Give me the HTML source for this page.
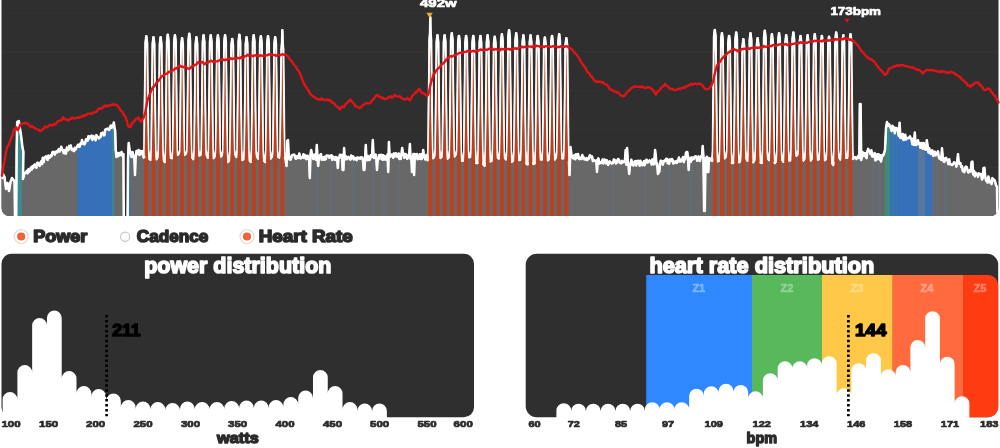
<!DOCTYPE html>
<html lang="en">
<head>
<meta charset="utf-8">
<title>Ride analysis</title>
<style>
html,body{margin:0;padding:0;background:#fff;}
body{width:1000px;height:448px;overflow:hidden;font-family:"Liberation Sans",sans-serif;}
svg{display:block;}
text{font-family:"Liberation Sans",sans-serif;font-weight:700;stroke-linejoin:round;}
.lab{font-size:11.5px;fill:#fff;stroke:#fff;stroke-width:.7px;}
.leg{font-size:16.2px;fill:#2b2b2b;stroke:#2b2b2b;stroke-width:1.5px;}
.ttl{font-size:21.4px;fill:#fff;stroke:#fff;stroke-width:1.6px;}
.mk{font-size:16px;fill:#000;stroke:#000;stroke-width:1.4px;}
.ax{font-size:9.5px;fill:#2b2b2b;stroke:#2b2b2b;stroke-width:.7px;}
.unit{font-size:15.2px;fill:#2b2b2b;stroke:#2b2b2b;stroke-width:1.4px;}
.zn{font-size:11px;fill:#fff;fill-opacity:.3;stroke:#fff;stroke-opacity:.3;stroke-width:.5px;}
</style>
</head>
<body>
<svg width="1000" height="448" viewBox="0 0 1000 448">
<defs>
<clipPath id="cc"><path d="M1.5,0 H998.5 V208.0 a8,8 0 0 1 -8,8 H9.5 a8,8 0 0 1 -8,-8 Z"/></clipPath>
</defs>
<rect x="0" y="0" width="1000" height="448" fill="#fff"/>
<g id="ride-chart">
<path d="M1.5,0 H998.5 V208.0 a8,8 0 0 1 -8,8 H9.5 a8,8 0 0 1 -8,-8 Z" fill="#2f2f2f"/>
<rect x="2" y="12.5" width="996" height="1" fill="#343434"/>
<rect x="2" y="51.0" width="996" height="1" fill="#343434"/>
<rect x="2" y="89.7" width="996" height="1" fill="#343434"/>
<rect x="2" y="128.4" width="996" height="1" fill="#343434"/>
<rect x="2" y="167.0" width="996" height="1" fill="#343434"/>
<g clip-path="url(#cc)">
<path d="M2.00,217.00 L2.00,178.00 L3.00,174.00 L4.50,177.00 L6.00,189.00 L7.50,183.00 L9.00,191.00 L10.50,182.00 L12.00,178.00 L13.50,180.00 L14.60,182.00 L15.00,218.00 L16.20,218.00 L16.60,150.00 L17.20,122.00 L18.80,121.00 L19.70,127.00 L21.00,135.00 L22.30,146.00 L23.40,152.00 L23.20,165.00 L23.00,179.00 L24.00,175.00 L25.00,173.00 L26.00,172.31 L26.80,170.76 L27.60,173.38 L28.40,169.31 L29.20,171.70 L30.00,170.17 L30.80,167.61 L31.60,169.74 L32.40,166.18 L33.20,167.98 L34.00,165.07 L34.80,164.55 L35.60,165.97 L36.40,167.81 L37.20,162.80 L38.00,162.77 L38.80,164.62 L39.60,165.95 L40.40,163.00 L41.20,161.23 L42.00,164.18 L42.80,157.76 L43.60,162.17 L44.40,158.25 L45.20,156.94 L46.00,156.38 L46.80,157.16 L47.60,159.91 L48.40,155.57 L49.20,157.66 L50.00,157.53 L50.80,155.34 L51.60,155.90 L52.40,152.36 L53.20,151.80 L54.00,152.18 L54.80,154.59 L55.60,152.48 L56.40,151.25 L57.20,152.35 L58.00,150.82 L58.80,149.16 L59.60,151.51 L60.40,150.21 L61.20,146.68 L62.00,149.13 L62.80,149.89 L63.60,153.13 L64.40,153.29 L65.20,150.06 L66.00,153.64 L66.80,147.59 L67.60,148.74 L68.40,150.13 L69.20,145.88 L70.00,148.10 L70.80,145.44 L71.60,149.48 L72.40,150.21 L73.20,149.15 L74.00,151.16 L74.80,147.81 L75.60,149.41 L76.40,147.72 L77.20,146.56 L78.00,144.73 L78.80,146.64 L79.60,146.82 L80.40,143.44 L81.20,144.15 L82.00,139.94 L82.80,143.45 L83.60,142.65 L84.40,144.36 L85.20,142.90 L86.00,139.16 L86.80,139.39 L87.60,140.75 L88.40,136.34 L89.20,138.66 L90.00,136.44 L90.80,136.06 L91.60,135.63 L92.40,139.96 L93.20,135.94 L94.00,136.60 L94.80,137.42 L95.60,140.34 L96.40,135.13 L97.20,136.88 L98.00,136.97 L98.80,138.51 L99.60,137.58 L100.40,137.32 L101.20,133.16 L102.00,133.47 L102.80,132.59 L103.60,135.32 L104.40,135.24 L105.20,129.70 L106.00,129.33 L106.80,129.14 L107.60,128.61 L108.40,129.71 L109.20,129.95 L110.00,127.53 L110.80,125.53 L111.60,127.70 L113.00,127.00 L113.80,122.50 L114.60,128.00 L115.20,131.00 L115.70,150.00 L116.50,157.00 L117.50,153.00 L118.50,156.00 L119.50,153.00 L120.50,155.00 L121.50,152.00 L122.50,156.00 L123.40,154.00 L123.80,218.00 L127.60,218.00 L128.00,160.00 L128.70,143.00 L129.60,150.00 L130.50,153.00 L131.50,157.00 L132.50,152.00 L133.50,156.00 L134.50,160.00 L135.00,175.00 L135.60,158.00 L136.50,151.00 L137.50,154.00 L138.50,150.00 L139.50,155.00 L140.50,151.00 L141.50,154.00 L142.50,151.00 L143.50,156.00 L144.30,157.00 L143.70,157.35 L144.30,150.00 L144.60,112.00 L145.25,62.00 L145.35,43.00 L146.10,36.00 L146.50,36.00 L147.25,43.00 L147.35,62.00 L148.00,112.00 L148.30,150.00 L149.47,159.03 L150.70,159.98 L151.46,150.00 L151.76,112.00 L152.41,62.00 L152.51,44.00 L153.26,37.00 L153.66,37.00 L154.41,44.00 L154.51,62.00 L155.16,112.00 L155.46,150.00 L156.47,159.44 L157.77,157.21 L158.62,150.00 L158.92,112.00 L159.57,62.00 L159.67,44.00 L160.42,37.00 L160.82,37.00 L161.57,44.00 L161.67,62.00 L162.32,112.00 L162.62,150.00 L163.74,160.74 L164.99,162.23 L165.78,150.00 L166.08,112.00 L166.73,62.00 L166.83,41.50 L167.58,34.50 L167.98,34.50 L168.73,41.50 L168.83,62.00 L169.48,112.00 L169.78,150.00 L170.44,157.69 L171.92,158.36 L172.94,150.00 L173.24,112.00 L173.89,62.00 L173.99,42.00 L174.74,35.00 L175.14,35.00 L175.89,42.00 L175.99,62.00 L176.64,112.00 L176.94,150.00 L177.67,155.04 L179.11,153.35 L180.10,150.00 L180.40,112.00 L181.05,62.00 L181.15,45.00 L181.90,38.00 L182.30,38.00 L183.05,45.00 L183.15,62.00 L183.80,112.00 L184.10,150.00 L184.70,154.92 L186.21,153.18 L187.26,150.00 L187.56,112.00 L188.21,62.00 L188.31,40.60 L189.06,33.60 L189.46,33.60 L190.21,40.60 L190.31,62.00 L190.96,112.00 L191.26,150.00 L191.88,157.41 L193.38,159.28 L194.42,150.00 L194.72,112.00 L195.37,62.00 L195.47,44.00 L196.22,37.00 L196.62,37.00 L197.37,44.00 L197.47,62.00 L198.12,112.00 L198.42,150.00 L199.17,155.69 L200.61,154.93 L201.58,150.00 L201.88,112.00 L202.53,62.00 L202.63,42.00 L203.38,35.00 L203.78,35.00 L204.53,42.00 L204.63,62.00 L205.28,112.00 L205.58,150.00 L206.69,155.48 L207.94,157.95 L208.74,150.00 L209.04,112.00 L209.69,62.00 L209.79,42.00 L210.54,35.00 L210.94,35.00 L211.69,42.00 L211.79,62.00 L212.44,112.00 L212.74,150.00 L213.39,158.37 L214.88,156.38 L215.90,150.00 L216.20,112.00 L216.85,62.00 L216.95,42.00 L217.70,35.00 L218.10,35.00 L218.85,42.00 L218.95,62.00 L219.60,112.00 L219.90,150.00 L221.00,156.62 L222.26,154.93 L223.06,150.00 L223.36,112.00 L224.01,62.00 L224.11,42.00 L224.86,35.00 L225.26,35.00 L226.01,42.00 L226.11,62.00 L226.76,112.00 L227.06,150.00 L227.98,162.11 L229.33,160.34 L230.22,150.00 L230.52,112.00 L231.17,62.00 L231.27,45.70 L232.02,38.70 L232.42,38.70 L233.17,45.70 L233.27,62.00 L233.92,112.00 L234.22,150.00 L235.14,154.72 L236.49,157.11 L237.38,150.00 L237.68,112.00 L238.33,62.00 L238.43,41.50 L239.18,34.50 L239.58,34.50 L240.33,41.50 L240.43,62.00 L241.08,112.00 L241.38,150.00 L242.14,160.07 L243.57,159.40 L244.54,150.00 L244.84,112.00 L245.49,62.00 L245.59,44.00 L246.34,37.00 L246.74,37.00 L247.49,44.00 L247.59,62.00 L248.24,112.00 L248.54,150.00 L249.46,160.68 L250.81,162.07 L251.70,150.00 L252.00,112.00 L252.65,62.00 L252.75,42.00 L253.50,35.00 L253.90,35.00 L254.65,42.00 L254.75,62.00 L255.40,112.00 L255.70,150.00 L256.79,156.28 L258.05,158.71 L258.86,150.00 L259.16,112.00 L259.81,62.00 L259.91,43.00 L260.66,36.00 L261.06,36.00 L261.81,43.00 L261.91,62.00 L262.56,112.00 L262.86,150.00 L263.95,160.95 L265.22,162.15 L266.02,150.00 L266.32,112.00 L266.97,62.00 L267.07,43.00 L267.82,36.00 L268.22,36.00 L268.97,43.00 L269.07,62.00 L269.72,112.00 L270.02,150.00 L270.83,158.64 L272.24,156.29 L273.18,150.00 L273.48,112.00 L274.13,62.00 L274.23,44.00 L274.98,37.00 L275.38,37.00 L276.13,44.00 L276.23,62.00 L276.88,112.00 L277.18,150.00 L277.94,156.74 L279.37,157.70 L280.34,150.00 L280.64,112.00 L281.29,62.00 L281.39,49.00 L281.89,42.00 L282.22,30.00 L282.46,30.00 L282.79,42.00 L283.29,49.00 L283.39,62.00 L284.04,112.00 L284.34,150.00 L284.94,158.08 L285.40,158.00 L286.50,166.00 L287.20,141.00 L288.00,140.00 L288.80,158.00 L289.50,159.43 L290.20,159.68 L290.90,159.43 L291.60,155.83 L292.30,154.92 L293.00,154.90 L293.70,154.66 L294.40,154.66 L295.10,157.12 L295.80,158.72 L296.50,158.31 L297.20,156.09 L297.90,157.08 L298.60,157.91 L299.30,153.56 L300.00,156.96 L300.70,158.49 L301.40,157.76 L302.10,157.61 L302.80,156.01 L303.50,154.25 L304.20,157.94 L304.90,155.24 L305.60,158.08 L306.30,159.14 L307.00,155.73 L307.70,155.79 L308.40,159.10 L309.10,157.80 L309.80,178.00 L310.50,154.55 L311.20,150.00 L311.90,154.36 L312.60,154.54 L313.30,159.09 L314.00,158.54 L314.70,154.61 L315.40,158.73 L316.10,159.69 L316.80,145.00 L317.50,157.82 L318.20,166.00 L318.90,156.05 L319.60,157.27 L320.30,154.80 L321.00,154.12 L321.70,159.88 L322.40,157.98 L323.10,157.26 L323.80,159.73 L324.50,156.75 L325.20,159.40 L325.90,159.15 L326.60,155.49 L327.30,155.75 L328.00,156.02 L328.70,155.73 L329.40,157.83 L330.10,155.89 L330.80,156.87 L331.50,155.17 L332.20,159.87 L332.90,156.55 L333.60,157.20 L334.30,157.98 L335.00,159.93 L335.70,157.05 L336.40,160.05 L337.10,157.58 L337.80,168.00 L338.50,157.81 L339.20,157.78 L339.90,154.78 L340.60,157.33 L341.30,155.81 L342.00,154.76 L342.70,170.00 L343.40,170.00 L344.10,148.00 L344.80,159.62 L345.50,155.88 L346.20,157.71 L346.90,159.25 L347.60,158.26 L348.30,156.90 L349.00,158.08 L349.70,158.32 L350.40,159.69 L351.10,155.60 L351.80,158.30 L352.50,156.41 L353.20,156.55 L353.90,159.50 L354.60,157.89 L355.30,158.19 L356.00,159.36 L356.70,160.25 L357.40,157.41 L358.10,158.41 L358.80,157.74 L359.50,157.76 L360.20,158.82 L360.90,157.35 L361.60,157.81 L362.30,157.46 L363.00,160.22 L363.70,170.00 L364.40,170.00 L365.10,158.69 L365.80,145.00 L366.50,159.71 L367.20,160.08 L367.90,155.96 L368.60,157.74 L369.30,160.02 L370.00,159.37 L370.70,155.13 L371.40,155.02 L372.10,156.92 L372.80,140.00 L373.50,154.65 L374.20,158.00 L374.90,155.61 L375.60,154.59 L376.30,158.14 L377.00,170.00 L377.70,158.78 L378.40,159.44 L379.10,154.96 L379.80,158.30 L380.50,157.94 L381.20,154.80 L381.90,159.20 L382.60,159.68 L383.30,155.15 L384.00,159.52 L384.70,156.15 L385.40,156.65 L386.10,159.63 L386.80,158.65 L387.50,154.59 L388.20,172.00 L388.90,142.00 L389.60,156.11 L390.30,156.58 L391.00,155.48 L391.70,154.59 L392.40,155.29 L393.10,157.68 L393.80,153.43 L394.50,156.60 L395.20,155.88 L395.90,153.31 L396.60,155.16 L397.30,156.88 L398.00,156.17 L398.70,153.45 L399.40,158.94 L400.10,157.73 L400.80,158.86 L401.50,153.68 L402.20,148.00 L402.90,154.70 L403.60,153.37 L404.30,157.83 L405.00,154.81 L405.70,153.99 L406.40,155.77 L407.10,158.73 L407.80,158.20 L408.50,154.87 L409.20,154.24 L409.90,144.00 L410.60,158.91 L411.30,156.84 L412.00,172.00 L412.70,157.67 L413.40,154.03 L414.10,175.00 L414.80,153.89 L415.50,157.70 L416.20,156.15 L416.90,154.06 L417.60,159.28 L418.30,157.48 L419.00,158.51 L419.70,154.23 L420.40,158.89 L421.10,154.18 L421.80,158.98 L422.50,156.56 L423.20,150.00 L423.90,155.92 L424.60,157.23 L425.30,159.50 L426.00,155.57 L426.70,154.76 L427.50,156.00 L427.70,160.13 L428.30,150.00 L428.60,112.00 L429.25,62.00 L429.35,40.00 L429.85,33.00 L430.18,17.00 L430.42,17.00 L430.75,33.00 L431.25,40.00 L431.35,62.00 L432.00,112.00 L432.30,150.00 L432.97,158.41 L434.44,156.71 L435.46,150.00 L435.76,112.00 L436.41,62.00 L436.51,42.00 L437.26,35.00 L437.66,35.00 L438.41,42.00 L438.51,62.00 L439.16,112.00 L439.46,150.00 L440.25,158.11 L441.66,157.14 L442.62,150.00 L442.92,112.00 L443.57,62.00 L443.67,42.00 L444.42,35.00 L444.82,35.00 L445.57,42.00 L445.67,62.00 L446.32,112.00 L446.62,150.00 L447.52,158.82 L448.88,157.21 L449.78,150.00 L450.08,112.00 L450.73,62.00 L450.83,40.00 L451.58,33.00 L451.98,33.00 L452.73,40.00 L452.83,62.00 L453.48,112.00 L453.78,150.00 L454.53,156.65 L455.97,154.22 L456.94,150.00 L457.24,112.00 L457.89,62.00 L457.99,42.70 L458.74,35.70 L459.14,35.70 L459.89,42.70 L459.99,62.00 L460.64,112.00 L460.94,150.00 L461.65,160.91 L463.11,160.78 L464.10,150.00 L464.40,112.00 L465.05,62.00 L465.15,42.70 L465.90,35.70 L466.30,35.70 L467.05,42.70 L467.15,62.00 L467.80,112.00 L468.10,150.00 L469.19,157.35 L470.46,157.01 L471.26,150.00 L471.56,112.00 L472.21,62.00 L472.31,42.70 L473.06,35.70 L473.46,35.70 L474.21,42.70 L474.31,62.00 L474.96,112.00 L475.26,150.00 L476.10,163.18 L477.49,163.21 L478.42,150.00 L478.72,112.00 L479.37,62.00 L479.47,42.70 L480.22,35.70 L480.62,35.70 L481.37,42.70 L481.47,62.00 L482.12,112.00 L482.42,150.00 L483.23,164.36 L484.63,166.02 L485.58,150.00 L485.88,112.00 L486.53,62.00 L486.63,42.00 L487.38,35.00 L487.78,35.00 L488.53,42.00 L488.63,62.00 L489.28,112.00 L489.58,150.00 L490.42,161.59 L491.81,160.83 L492.74,150.00 L493.04,112.00 L493.69,62.00 L493.79,43.50 L494.54,36.50 L494.94,36.50 L495.69,43.50 L495.79,62.00 L496.44,112.00 L496.74,150.00 L497.38,157.54 L498.87,158.74 L499.90,150.00 L500.20,112.00 L500.85,62.00 L500.95,41.00 L501.70,34.00 L502.10,34.00 L502.85,41.00 L502.95,62.00 L503.60,112.00 L503.90,150.00 L504.55,157.81 L506.04,159.51 L507.06,150.00 L507.36,112.00 L508.01,62.00 L508.11,37.00 L508.86,30.00 L509.26,30.00 L510.01,37.00 L510.11,62.00 L510.76,112.00 L511.06,150.00 L511.83,161.86 L513.25,160.58 L514.22,150.00 L514.52,112.00 L515.17,62.00 L515.27,40.00 L516.02,33.00 L516.42,33.00 L517.17,40.00 L517.27,62.00 L517.92,112.00 L518.22,150.00 L518.91,160.18 L520.38,159.90 L521.38,150.00 L521.68,112.00 L522.33,62.00 L522.43,42.00 L523.18,35.00 L523.58,35.00 L524.33,42.00 L524.43,62.00 L525.08,112.00 L525.38,150.00 L526.56,164.19 L527.78,164.43 L528.54,150.00 L528.84,112.00 L529.49,62.00 L529.59,42.00 L530.34,35.00 L530.74,35.00 L531.49,42.00 L531.59,62.00 L532.24,112.00 L532.54,150.00 L533.33,164.23 L534.74,163.51 L535.70,150.00 L536.00,112.00 L536.65,62.00 L536.75,42.70 L537.50,35.70 L537.90,35.70 L538.65,42.70 L538.75,62.00 L539.40,112.00 L539.70,150.00 L540.58,159.55 L541.95,159.57 L542.86,150.00 L543.16,112.00 L543.81,62.00 L543.91,44.40 L544.66,37.40 L545.06,37.40 L545.81,44.40 L545.91,62.00 L546.56,112.00 L546.86,150.00 L547.46,160.54 L548.97,159.36 L550.02,150.00 L550.32,112.00 L550.97,62.00 L551.07,42.70 L551.82,35.70 L552.22,35.70 L552.97,42.70 L553.07,62.00 L553.72,112.00 L554.02,150.00 L554.65,159.70 L556.14,157.31 L557.18,150.00 L557.48,112.00 L558.13,62.00 L558.23,41.00 L558.98,34.00 L559.38,34.00 L560.13,41.00 L560.23,62.00 L560.88,112.00 L561.18,150.00 L562.13,158.36 L563.47,158.51 L564.34,150.00 L564.64,112.00 L565.29,62.00 L565.39,45.00 L566.14,38.00 L566.54,38.00 L567.29,45.00 L567.39,62.00 L568.04,112.00 L568.34,150.00 L568.94,161.76 L569.50,175.00 L570.50,147.00 L571.50,155.00 L572.50,157.35 L573.20,158.41 L573.90,155.55 L574.60,155.25 L575.30,159.28 L576.00,154.34 L576.70,157.87 L577.40,157.46 L578.10,153.94 L578.80,158.77 L579.50,159.18 L580.20,157.68 L580.90,158.39 L581.60,158.94 L582.30,154.98 L583.00,157.36 L583.70,157.33 L584.40,159.39 L585.10,159.28 L585.80,159.49 L586.50,158.12 L587.20,160.05 L587.90,158.86 L588.60,159.00 L589.30,156.30 L590.00,155.19 L590.70,156.08 L591.40,157.72 L592.10,156.47 L592.80,161.13 L593.50,159.75 L594.20,160.45 L594.90,160.72 L595.60,161.32 L596.30,160.46 L597.00,172.00 L597.70,160.00 L598.40,158.38 L599.10,163.43 L599.80,163.41 L600.50,162.02 L601.20,162.21 L601.90,162.96 L602.60,159.40 L603.30,163.42 L604.00,160.51 L604.70,159.45 L605.40,160.59 L606.10,163.38 L606.80,160.23 L607.50,163.44 L608.20,164.85 L608.90,161.96 L609.60,161.30 L610.30,161.87 L611.00,163.10 L611.70,163.60 L612.40,162.70 L613.10,162.86 L613.80,159.46 L614.50,159.88 L615.20,160.52 L615.90,163.46 L616.60,160.83 L617.30,162.41 L618.00,159.07 L618.70,159.36 L619.40,160.61 L620.10,163.04 L620.80,163.19 L621.50,163.13 L622.20,160.86 L622.90,162.24 L623.60,161.97 L624.30,162.01 L625.00,159.96 L625.70,150.00 L626.40,164.68 L627.10,148.00 L627.80,160.59 L628.50,165.29 L629.20,174.00 L629.90,165.00 L630.60,165.15 L631.30,159.67 L632.00,162.35 L632.70,164.55 L633.40,165.48 L634.10,162.40 L634.80,161.35 L635.50,161.03 L636.20,165.48 L636.90,161.11 L637.60,163.37 L638.30,160.77 L639.00,163.09 L639.70,165.70 L640.40,160.78 L641.10,164.87 L641.80,162.96 L642.50,165.20 L643.20,164.06 L643.90,161.19 L644.60,165.16 L645.30,162.65 L646.00,159.85 L646.70,159.69 L647.40,162.58 L648.10,162.30 L648.80,161.37 L649.50,160.37 L650.20,161.55 L650.90,161.35 L651.60,164.46 L652.30,159.40 L653.00,163.85 L653.70,164.35 L654.40,160.00 L655.10,150.00 L655.80,156.00 L656.50,164.73 L657.20,163.42 L657.90,174.00 L658.60,172.00 L659.30,172.00 L660.00,164.41 L660.70,160.67 L661.40,161.09 L662.10,161.15 L662.80,164.71 L663.50,162.19 L664.20,160.74 L664.90,161.08 L665.60,160.09 L666.30,158.66 L667.00,158.91 L667.70,163.24 L668.40,159.87 L669.10,163.70 L669.80,159.52 L670.50,159.54 L671.20,160.95 L671.90,158.95 L672.60,159.98 L673.30,163.41 L674.00,162.91 L674.70,162.40 L675.40,161.25 L676.10,162.87 L676.80,162.96 L677.50,160.55 L678.20,161.50 L678.90,157.41 L679.60,161.43 L680.30,159.68 L681.00,161.42 L681.70,160.70 L682.40,158.48 L683.10,156.98 L683.80,162.18 L684.50,157.31 L685.20,159.31 L685.90,153.00 L686.60,152.00 L687.30,152.00 L688.00,158.26 L688.70,170.00 L689.40,157.85 L690.10,160.42 L690.80,161.78 L691.50,157.41 L692.20,159.72 L692.90,157.52 L693.60,158.98 L694.30,157.94 L695.00,156.50 L695.70,156.40 L696.40,156.61 L697.10,160.73 L697.80,158.20 L698.50,156.47 L699.20,160.52 L699.90,160.99 L700.60,157.81 L701.30,156.07 L702.00,156.52 L702.70,146.00 L703.40,156.16 L704.10,211.00 L704.80,211.00 L705.50,158.05 L706.20,165.00 L706.90,156.80 L707.60,172.00 L708.30,172.00 L709.00,158.07 L709.70,158.31 L710.40,160.31 L712.00,158.00 L712.20,160.94 L712.80,150.00 L713.10,112.00 L713.75,62.00 L713.85,36.80 L714.60,29.80 L715.00,29.80 L715.75,36.80 L715.85,62.00 L716.50,112.00 L716.80,150.00 L717.65,161.50 L719.01,161.07 L719.94,150.00 L720.24,112.00 L720.89,62.00 L720.99,40.00 L721.74,33.00 L722.14,33.00 L722.89,40.00 L722.99,62.00 L723.64,112.00 L723.94,150.00 L724.74,158.51 L726.13,156.33 L727.08,150.00 L727.38,112.00 L728.03,62.00 L728.13,42.70 L728.88,35.70 L729.28,35.70 L730.03,42.70 L730.13,62.00 L730.78,112.00 L731.08,150.00 L731.76,163.24 L733.21,163.26 L734.22,150.00 L734.52,112.00 L735.17,62.00 L735.27,39.30 L736.02,32.30 L736.42,32.30 L737.17,39.30 L737.27,62.00 L737.92,112.00 L738.22,150.00 L738.95,162.40 L740.37,161.26 L741.36,150.00 L741.66,112.00 L742.31,62.00 L742.41,46.00 L743.16,39.00 L743.56,39.00 L744.31,46.00 L744.41,62.00 L745.06,112.00 L745.36,150.00 L746.23,158.70 L747.58,160.97 L748.50,150.00 L748.80,112.00 L749.45,62.00 L749.55,40.00 L750.30,33.00 L750.70,33.00 L751.45,40.00 L751.55,62.00 L752.20,112.00 L752.50,150.00 L753.11,162.48 L754.60,160.14 L755.64,150.00 L755.94,112.00 L756.59,62.00 L756.69,45.00 L757.44,38.00 L757.84,38.00 L758.59,45.00 L758.69,62.00 L759.34,112.00 L759.64,150.00 L760.52,162.67 L761.87,163.10 L762.78,150.00 L763.08,112.00 L763.73,62.00 L763.83,37.60 L764.58,30.60 L764.98,30.60 L765.73,37.60 L765.83,62.00 L766.48,112.00 L766.78,150.00 L767.94,158.63 L769.15,160.26 L769.92,150.00 L770.22,112.00 L770.87,62.00 L770.97,41.00 L771.72,34.00 L772.12,34.00 L772.87,41.00 L772.97,62.00 L773.62,112.00 L773.92,150.00 L774.67,163.28 L776.08,161.32 L777.06,150.00 L777.36,112.00 L778.01,62.00 L778.11,40.00 L778.86,33.00 L779.26,33.00 L780.01,40.00 L780.11,62.00 L780.76,112.00 L781.06,150.00 L782.07,159.68 L783.35,161.89 L784.20,150.00 L784.50,112.00 L785.15,62.00 L785.25,42.00 L786.00,35.00 L786.40,35.00 L787.15,42.00 L787.25,62.00 L787.90,112.00 L788.20,150.00 L789.26,160.68 L790.52,160.47 L791.34,150.00 L791.64,112.00 L792.29,62.00 L792.39,39.30 L793.14,32.30 L793.54,32.30 L794.29,39.30 L794.39,62.00 L795.04,112.00 L795.34,150.00 L796.41,155.82 L797.66,154.48 L798.48,150.00 L798.78,112.00 L799.43,62.00 L799.53,42.70 L800.28,35.70 L800.68,35.70 L801.43,42.70 L801.53,62.00 L802.18,112.00 L802.48,150.00 L803.26,160.66 L804.66,158.80 L805.62,150.00 L805.92,112.00 L806.57,62.00 L806.67,42.00 L807.42,35.00 L807.82,35.00 L808.57,42.00 L808.67,62.00 L809.32,112.00 L809.62,150.00 L810.64,160.59 L811.92,158.65 L812.76,150.00 L813.06,112.00 L813.71,62.00 L813.81,41.00 L814.56,34.00 L814.96,34.00 L815.71,41.00 L815.81,62.00 L816.46,112.00 L816.76,150.00 L817.71,159.70 L819.02,159.14 L819.90,150.00 L820.20,112.00 L820.85,62.00 L820.95,42.70 L821.70,35.70 L822.10,35.70 L822.85,42.70 L822.95,62.00 L823.60,112.00 L823.90,150.00 L824.51,160.31 L825.99,159.32 L827.04,150.00 L827.34,112.00 L827.99,62.00 L828.09,43.50 L828.84,36.50 L829.24,36.50 L829.99,43.50 L830.09,62.00 L830.74,112.00 L831.04,150.00 L832.03,163.17 L833.32,165.09 L834.18,150.00 L834.48,112.00 L835.13,62.00 L835.23,39.30 L835.98,32.30 L836.38,32.30 L837.13,39.30 L837.23,62.00 L837.88,112.00 L838.18,150.00 L838.93,157.38 L840.34,159.68 L841.32,150.00 L841.62,112.00 L842.27,62.00 L842.37,42.00 L843.12,35.00 L843.52,35.00 L844.27,42.00 L844.37,62.00 L845.02,112.00 L845.32,150.00 L845.93,157.96 L847.42,157.95 L848.46,150.00 L848.76,112.00 L849.41,62.00 L849.51,41.00 L850.26,34.00 L850.66,34.00 L851.41,41.00 L851.51,62.00 L852.16,112.00 L852.46,150.00 L853.06,158.86 L853.50,158.00 L855.00,157.00 L856.50,159.00 L858.00,156.00 L859.30,158.00 L859.80,104.00 L860.60,104.00 L861.20,160.00 L862.50,152.00 L864.00,156.00 L865.00,153.10 L865.80,156.34 L866.60,158.18 L867.40,151.22 L868.20,148.91 L869.00,151.18 L869.80,151.40 L870.60,154.16 L871.40,150.34 L872.20,156.49 L873.00,156.60 L873.80,155.08 L874.60,152.97 L875.40,160.41 L876.20,154.53 L877.00,159.39 L877.80,154.15 L878.60,154.24 L879.40,159.37 L880.20,155.27 L881.00,161.49 L881.80,157.47 L882.60,154.81 L883.40,155.32 L885.00,150.00 L886.00,128.00 L887.00,122.00 L888.00,126.00 L889.00,124.00 L890.00,126.07 L890.80,128.39 L891.60,130.96 L892.40,125.72 L893.20,128.03 L894.00,127.27 L894.80,133.28 L895.60,127.90 L896.40,127.89 L897.20,128.59 L898.00,131.63 L898.80,135.91 L899.60,122.75 L900.40,137.90 L901.20,138.07 L902.00,134.37 L902.80,133.98 L903.60,140.02 L904.40,139.29 L905.20,134.71 L906.00,139.58 L906.80,137.85 L907.60,138.13 L908.40,138.15 L909.20,137.30 L910.00,136.42 L910.80,138.73 L911.60,139.57 L912.40,144.24 L913.20,138.57 L914.00,144.94 L914.80,132.49 L915.60,144.62 L916.40,145.02 L917.20,142.61 L918.00,140.25 L918.80,143.71 L919.60,143.38 L920.40,147.72 L921.20,142.89 L922.00,144.52 L922.80,148.76 L923.60,142.92 L924.40,146.06 L925.20,149.39 L926.00,149.63 L926.80,140.15 L927.60,145.71 L928.40,152.45 L929.20,148.25 L930.00,152.35 L930.80,154.01 L931.60,150.56 L932.40,150.56 L933.20,155.90 L934.00,153.84 L934.80,151.69 L935.60,155.36 L936.40,152.88 L937.20,152.98 L938.00,151.43 L938.80,157.24 L939.60,158.80 L940.40,157.20 L941.20,159.91 L942.00,148.26 L942.80,157.50 L943.60,161.45 L944.40,161.91 L945.20,158.30 L946.00,157.81 L946.80,159.58 L947.60,160.51 L948.40,164.12 L949.20,159.24 L950.00,164.18 L950.80,164.04 L951.60,164.96 L952.40,164.92 L953.20,164.05 L954.00,162.36 L954.80,162.62 L955.60,163.25 L956.40,166.59 L957.20,161.85 L958.00,154.19 L958.80,163.70 L959.60,162.71 L960.40,162.88 L961.20,167.10 L962.00,165.95 L962.80,171.14 L963.60,170.92 L964.40,172.15 L965.20,167.43 L966.00,166.61 L966.80,167.17 L967.60,170.55 L968.40,172.55 L969.20,171.14 L970.00,170.09 L970.80,171.72 L971.60,161.94 L972.40,161.57 L973.20,174.46 L974.00,170.87 L974.80,176.37 L975.60,172.76 L976.40,175.04 L977.20,173.97 L978.00,176.91 L978.80,173.35 L979.60,174.02 L980.40,174.33 L981.20,173.98 L982.00,179.57 L982.80,177.68 L983.60,167.86 L984.40,167.73 L985.20,176.15 L986.00,180.62 L986.80,179.82 L987.60,182.57 L988.40,176.50 L989.20,179.50 L990.00,182.30 L990.80,182.93 L991.60,183.94 L992.40,178.13 L993.20,180.43 L994.00,179.66 L994.80,180.64 L996.00,185.00 L997.00,187.00 L997.40,216.00 L998.00,216.00 L998.00,217.00 Z" fill="#686868"/>
<path d="M16.60,217.00 L16.60,150.00 L17.20,122.00 L18.80,121.00 L19.70,127.00 L21.00,135.00 L22.00,143.46 L22.00,217.00 Z" fill="#3a8a90"/>
<path d="M77.50,217.00 L77.50,145.87 L78.00,144.73 L78.80,146.64 L79.60,146.82 L80.40,143.44 L81.20,144.15 L82.00,139.94 L82.80,143.45 L83.60,142.65 L84.40,144.36 L85.20,142.90 L86.00,139.16 L86.80,139.39 L87.60,140.75 L88.40,136.34 L89.20,138.66 L90.00,136.44 L90.80,136.06 L91.60,135.63 L92.40,139.96 L93.20,135.94 L94.00,136.60 L94.80,137.42 L95.60,140.34 L96.40,135.13 L97.20,136.88 L98.00,136.97 L98.80,138.51 L99.60,137.58 L100.40,137.32 L101.20,133.16 L102.00,133.47 L102.80,132.59 L103.60,135.32 L104.40,135.24 L105.20,129.70 L106.00,129.33 L106.80,129.14 L107.60,128.61 L108.40,129.71 L109.20,129.95 L110.00,127.53 L110.80,125.53 L111.60,127.70 L112.30,127.35 L112.30,217.00 Z" fill="#3670b8"/>
<path d="M112.30,217.00 L112.30,127.35 L113.00,127.00 L113.80,122.50 L114.30,125.94 L114.30,217.00 Z" fill="#3a8a90"/>
<path d="M128.40,217.00 L128.40,150.29 L128.70,143.00 L129.60,150.00 L130.50,153.00 L130.60,153.40 L130.60,217.00 Z" fill="#3670b8"/>
<path d="M144.40,217.00 L144.40,137.33 L144.60,112.00 L145.25,62.00 L145.35,43.00 L146.10,36.00 L146.50,36.00 L147.25,43.00 L147.35,62.00 L148.00,112.00 L148.20,137.33 L148.20,217.00 Z" fill="#bd3f1d"/>
<path d="M151.56,217.00 L151.56,137.33 L151.76,112.00 L152.41,62.00 L152.51,44.00 L153.26,37.00 L153.66,37.00 L154.41,44.00 L154.51,62.00 L155.16,112.00 L155.36,137.33 L155.36,217.00 Z" fill="#bd3f1d"/>
<path d="M158.72,217.00 L158.72,137.33 L158.92,112.00 L159.57,62.00 L159.67,44.00 L160.42,37.00 L160.82,37.00 L161.57,44.00 L161.67,62.00 L162.32,112.00 L162.52,137.33 L162.52,217.00 Z" fill="#bd3f1d"/>
<path d="M165.88,217.00 L165.88,137.33 L166.08,112.00 L166.73,62.00 L166.83,41.50 L167.58,34.50 L167.98,34.50 L168.73,41.50 L168.83,62.00 L169.48,112.00 L169.68,137.33 L169.68,217.00 Z" fill="#bd3f1d"/>
<path d="M173.04,217.00 L173.04,137.33 L173.24,112.00 L173.89,62.00 L173.99,42.00 L174.74,35.00 L175.14,35.00 L175.89,42.00 L175.99,62.00 L176.64,112.00 L176.84,137.33 L176.84,217.00 Z" fill="#bd3f1d"/>
<path d="M180.20,217.00 L180.20,137.33 L180.40,112.00 L181.05,62.00 L181.15,45.00 L181.90,38.00 L182.30,38.00 L183.05,45.00 L183.15,62.00 L183.80,112.00 L184.00,137.33 L184.00,217.00 Z" fill="#bd3f1d"/>
<path d="M187.36,217.00 L187.36,137.33 L187.56,112.00 L188.21,62.00 L188.31,40.60 L189.06,33.60 L189.46,33.60 L190.21,40.60 L190.31,62.00 L190.96,112.00 L191.16,137.33 L191.16,217.00 Z" fill="#bd3f1d"/>
<path d="M194.52,217.00 L194.52,137.33 L194.72,112.00 L195.37,62.00 L195.47,44.00 L196.22,37.00 L196.62,37.00 L197.37,44.00 L197.47,62.00 L198.12,112.00 L198.32,137.33 L198.32,217.00 Z" fill="#bd3f1d"/>
<path d="M201.68,217.00 L201.68,137.33 L201.88,112.00 L202.53,62.00 L202.63,42.00 L203.38,35.00 L203.78,35.00 L204.53,42.00 L204.63,62.00 L205.28,112.00 L205.48,137.33 L205.48,217.00 Z" fill="#bd3f1d"/>
<path d="M208.84,217.00 L208.84,137.33 L209.04,112.00 L209.69,62.00 L209.79,42.00 L210.54,35.00 L210.94,35.00 L211.69,42.00 L211.79,62.00 L212.44,112.00 L212.64,137.33 L212.64,217.00 Z" fill="#bd3f1d"/>
<path d="M216.00,217.00 L216.00,137.33 L216.20,112.00 L216.85,62.00 L216.95,42.00 L217.70,35.00 L218.10,35.00 L218.85,42.00 L218.95,62.00 L219.60,112.00 L219.80,137.33 L219.80,217.00 Z" fill="#bd3f1d"/>
<path d="M223.16,217.00 L223.16,137.33 L223.36,112.00 L224.01,62.00 L224.11,42.00 L224.86,35.00 L225.26,35.00 L226.01,42.00 L226.11,62.00 L226.76,112.00 L226.96,137.33 L226.96,217.00 Z" fill="#bd3f1d"/>
<path d="M230.32,217.00 L230.32,137.33 L230.52,112.00 L231.17,62.00 L231.27,45.70 L232.02,38.70 L232.42,38.70 L233.17,45.70 L233.27,62.00 L233.92,112.00 L234.12,137.33 L234.12,217.00 Z" fill="#bd3f1d"/>
<path d="M237.48,217.00 L237.48,137.33 L237.68,112.00 L238.33,62.00 L238.43,41.50 L239.18,34.50 L239.58,34.50 L240.33,41.50 L240.43,62.00 L241.08,112.00 L241.28,137.33 L241.28,217.00 Z" fill="#bd3f1d"/>
<path d="M244.64,217.00 L244.64,137.33 L244.84,112.00 L245.49,62.00 L245.59,44.00 L246.34,37.00 L246.74,37.00 L247.49,44.00 L247.59,62.00 L248.24,112.00 L248.44,137.33 L248.44,217.00 Z" fill="#bd3f1d"/>
<path d="M251.80,217.00 L251.80,137.33 L252.00,112.00 L252.65,62.00 L252.75,42.00 L253.50,35.00 L253.90,35.00 L254.65,42.00 L254.75,62.00 L255.40,112.00 L255.60,137.33 L255.60,217.00 Z" fill="#bd3f1d"/>
<path d="M258.96,217.00 L258.96,137.33 L259.16,112.00 L259.81,62.00 L259.91,43.00 L260.66,36.00 L261.06,36.00 L261.81,43.00 L261.91,62.00 L262.56,112.00 L262.76,137.33 L262.76,217.00 Z" fill="#bd3f1d"/>
<path d="M266.12,217.00 L266.12,137.33 L266.32,112.00 L266.97,62.00 L267.07,43.00 L267.82,36.00 L268.22,36.00 L268.97,43.00 L269.07,62.00 L269.72,112.00 L269.92,137.33 L269.92,217.00 Z" fill="#bd3f1d"/>
<path d="M273.28,217.00 L273.28,137.33 L273.48,112.00 L274.13,62.00 L274.23,44.00 L274.98,37.00 L275.38,37.00 L276.13,44.00 L276.23,62.00 L276.88,112.00 L277.08,137.33 L277.08,217.00 Z" fill="#bd3f1d"/>
<path d="M280.44,217.00 L280.44,137.33 L280.64,112.00 L281.29,62.00 L281.39,49.00 L281.89,42.00 L282.22,30.00 L282.46,30.00 L282.79,42.00 L283.29,49.00 L283.39,62.00 L284.04,112.00 L284.24,137.33 L284.24,217.00 Z" fill="#bd3f1d"/>
<path d="M428.40,217.00 L428.40,137.33 L428.60,112.00 L429.25,62.00 L429.35,40.00 L429.85,33.00 L430.18,17.00 L430.42,17.00 L430.75,33.00 L431.25,40.00 L431.35,62.00 L432.00,112.00 L432.20,137.33 L432.20,217.00 Z" fill="#bd3f1d"/>
<path d="M435.56,217.00 L435.56,137.33 L435.76,112.00 L436.41,62.00 L436.51,42.00 L437.26,35.00 L437.66,35.00 L438.41,42.00 L438.51,62.00 L439.16,112.00 L439.36,137.33 L439.36,217.00 Z" fill="#bd3f1d"/>
<path d="M442.72,217.00 L442.72,137.33 L442.92,112.00 L443.57,62.00 L443.67,42.00 L444.42,35.00 L444.82,35.00 L445.57,42.00 L445.67,62.00 L446.32,112.00 L446.52,137.33 L446.52,217.00 Z" fill="#bd3f1d"/>
<path d="M449.88,217.00 L449.88,137.33 L450.08,112.00 L450.73,62.00 L450.83,40.00 L451.58,33.00 L451.98,33.00 L452.73,40.00 L452.83,62.00 L453.48,112.00 L453.68,137.33 L453.68,217.00 Z" fill="#bd3f1d"/>
<path d="M457.04,217.00 L457.04,137.33 L457.24,112.00 L457.89,62.00 L457.99,42.70 L458.74,35.70 L459.14,35.70 L459.89,42.70 L459.99,62.00 L460.64,112.00 L460.84,137.33 L460.84,217.00 Z" fill="#bd3f1d"/>
<path d="M464.20,217.00 L464.20,137.33 L464.40,112.00 L465.05,62.00 L465.15,42.70 L465.90,35.70 L466.30,35.70 L467.05,42.70 L467.15,62.00 L467.80,112.00 L468.00,137.33 L468.00,217.00 Z" fill="#bd3f1d"/>
<path d="M471.36,217.00 L471.36,137.33 L471.56,112.00 L472.21,62.00 L472.31,42.70 L473.06,35.70 L473.46,35.70 L474.21,42.70 L474.31,62.00 L474.96,112.00 L475.16,137.33 L475.16,217.00 Z" fill="#bd3f1d"/>
<path d="M478.52,217.00 L478.52,137.33 L478.72,112.00 L479.37,62.00 L479.47,42.70 L480.22,35.70 L480.62,35.70 L481.37,42.70 L481.47,62.00 L482.12,112.00 L482.32,137.33 L482.32,217.00 Z" fill="#bd3f1d"/>
<path d="M485.68,217.00 L485.68,137.33 L485.88,112.00 L486.53,62.00 L486.63,42.00 L487.38,35.00 L487.78,35.00 L488.53,42.00 L488.63,62.00 L489.28,112.00 L489.48,137.33 L489.48,217.00 Z" fill="#bd3f1d"/>
<path d="M492.84,217.00 L492.84,137.33 L493.04,112.00 L493.69,62.00 L493.79,43.50 L494.54,36.50 L494.94,36.50 L495.69,43.50 L495.79,62.00 L496.44,112.00 L496.64,137.33 L496.64,217.00 Z" fill="#bd3f1d"/>
<path d="M500.00,217.00 L500.00,137.33 L500.20,112.00 L500.85,62.00 L500.95,41.00 L501.70,34.00 L502.10,34.00 L502.85,41.00 L502.95,62.00 L503.60,112.00 L503.80,137.33 L503.80,217.00 Z" fill="#bd3f1d"/>
<path d="M507.16,217.00 L507.16,137.33 L507.36,112.00 L508.01,62.00 L508.11,37.00 L508.86,30.00 L509.26,30.00 L510.01,37.00 L510.11,62.00 L510.76,112.00 L510.96,137.33 L510.96,217.00 Z" fill="#bd3f1d"/>
<path d="M514.32,217.00 L514.32,137.33 L514.52,112.00 L515.17,62.00 L515.27,40.00 L516.02,33.00 L516.42,33.00 L517.17,40.00 L517.27,62.00 L517.92,112.00 L518.12,137.33 L518.12,217.00 Z" fill="#bd3f1d"/>
<path d="M521.48,217.00 L521.48,137.33 L521.68,112.00 L522.33,62.00 L522.43,42.00 L523.18,35.00 L523.58,35.00 L524.33,42.00 L524.43,62.00 L525.08,112.00 L525.28,137.33 L525.28,217.00 Z" fill="#bd3f1d"/>
<path d="M528.64,217.00 L528.64,137.33 L528.84,112.00 L529.49,62.00 L529.59,42.00 L530.34,35.00 L530.74,35.00 L531.49,42.00 L531.59,62.00 L532.24,112.00 L532.44,137.33 L532.44,217.00 Z" fill="#bd3f1d"/>
<path d="M535.80,217.00 L535.80,137.33 L536.00,112.00 L536.65,62.00 L536.75,42.70 L537.50,35.70 L537.90,35.70 L538.65,42.70 L538.75,62.00 L539.40,112.00 L539.60,137.33 L539.60,217.00 Z" fill="#bd3f1d"/>
<path d="M542.96,217.00 L542.96,137.33 L543.16,112.00 L543.81,62.00 L543.91,44.40 L544.66,37.40 L545.06,37.40 L545.81,44.40 L545.91,62.00 L546.56,112.00 L546.76,137.33 L546.76,217.00 Z" fill="#bd3f1d"/>
<path d="M550.12,217.00 L550.12,137.33 L550.32,112.00 L550.97,62.00 L551.07,42.70 L551.82,35.70 L552.22,35.70 L552.97,42.70 L553.07,62.00 L553.72,112.00 L553.92,137.33 L553.92,217.00 Z" fill="#bd3f1d"/>
<path d="M557.28,217.00 L557.28,137.33 L557.48,112.00 L558.13,62.00 L558.23,41.00 L558.98,34.00 L559.38,34.00 L560.13,41.00 L560.23,62.00 L560.88,112.00 L561.08,137.33 L561.08,217.00 Z" fill="#bd3f1d"/>
<path d="M564.44,217.00 L564.44,137.33 L564.64,112.00 L565.29,62.00 L565.39,45.00 L566.14,38.00 L566.54,38.00 L567.29,45.00 L567.39,62.00 L568.04,112.00 L568.24,137.33 L568.24,217.00 Z" fill="#bd3f1d"/>
<path d="M712.90,217.00 L712.90,137.33 L713.10,112.00 L713.75,62.00 L713.85,36.80 L714.60,29.80 L715.00,29.80 L715.75,36.80 L715.85,62.00 L716.50,112.00 L716.70,137.33 L716.70,217.00 Z" fill="#bd3f1d"/>
<path d="M720.04,217.00 L720.04,137.33 L720.24,112.00 L720.89,62.00 L720.99,40.00 L721.74,33.00 L722.14,33.00 L722.89,40.00 L722.99,62.00 L723.64,112.00 L723.84,137.33 L723.84,217.00 Z" fill="#bd3f1d"/>
<path d="M727.18,217.00 L727.18,137.33 L727.38,112.00 L728.03,62.00 L728.13,42.70 L728.88,35.70 L729.28,35.70 L730.03,42.70 L730.13,62.00 L730.78,112.00 L730.98,137.33 L730.98,217.00 Z" fill="#bd3f1d"/>
<path d="M734.32,217.00 L734.32,137.33 L734.52,112.00 L735.17,62.00 L735.27,39.30 L736.02,32.30 L736.42,32.30 L737.17,39.30 L737.27,62.00 L737.92,112.00 L738.12,137.33 L738.12,217.00 Z" fill="#bd3f1d"/>
<path d="M741.46,217.00 L741.46,137.33 L741.66,112.00 L742.31,62.00 L742.41,46.00 L743.16,39.00 L743.56,39.00 L744.31,46.00 L744.41,62.00 L745.06,112.00 L745.26,137.33 L745.26,217.00 Z" fill="#bd3f1d"/>
<path d="M748.60,217.00 L748.60,137.33 L748.80,112.00 L749.45,62.00 L749.55,40.00 L750.30,33.00 L750.70,33.00 L751.45,40.00 L751.55,62.00 L752.20,112.00 L752.40,137.33 L752.40,217.00 Z" fill="#bd3f1d"/>
<path d="M755.74,217.00 L755.74,137.33 L755.94,112.00 L756.59,62.00 L756.69,45.00 L757.44,38.00 L757.84,38.00 L758.59,45.00 L758.69,62.00 L759.34,112.00 L759.54,137.33 L759.54,217.00 Z" fill="#bd3f1d"/>
<path d="M762.88,217.00 L762.88,137.33 L763.08,112.00 L763.73,62.00 L763.83,37.60 L764.58,30.60 L764.98,30.60 L765.73,37.60 L765.83,62.00 L766.48,112.00 L766.68,137.33 L766.68,217.00 Z" fill="#bd3f1d"/>
<path d="M770.02,217.00 L770.02,137.33 L770.22,112.00 L770.87,62.00 L770.97,41.00 L771.72,34.00 L772.12,34.00 L772.87,41.00 L772.97,62.00 L773.62,112.00 L773.82,137.33 L773.82,217.00 Z" fill="#bd3f1d"/>
<path d="M777.16,217.00 L777.16,137.33 L777.36,112.00 L778.01,62.00 L778.11,40.00 L778.86,33.00 L779.26,33.00 L780.01,40.00 L780.11,62.00 L780.76,112.00 L780.96,137.33 L780.96,217.00 Z" fill="#bd3f1d"/>
<path d="M784.30,217.00 L784.30,137.33 L784.50,112.00 L785.15,62.00 L785.25,42.00 L786.00,35.00 L786.40,35.00 L787.15,42.00 L787.25,62.00 L787.90,112.00 L788.10,137.33 L788.10,217.00 Z" fill="#bd3f1d"/>
<path d="M791.44,217.00 L791.44,137.33 L791.64,112.00 L792.29,62.00 L792.39,39.30 L793.14,32.30 L793.54,32.30 L794.29,39.30 L794.39,62.00 L795.04,112.00 L795.24,137.33 L795.24,217.00 Z" fill="#bd3f1d"/>
<path d="M798.58,217.00 L798.58,137.33 L798.78,112.00 L799.43,62.00 L799.53,42.70 L800.28,35.70 L800.68,35.70 L801.43,42.70 L801.53,62.00 L802.18,112.00 L802.38,137.33 L802.38,217.00 Z" fill="#bd3f1d"/>
<path d="M805.72,217.00 L805.72,137.33 L805.92,112.00 L806.57,62.00 L806.67,42.00 L807.42,35.00 L807.82,35.00 L808.57,42.00 L808.67,62.00 L809.32,112.00 L809.52,137.33 L809.52,217.00 Z" fill="#bd3f1d"/>
<path d="M812.86,217.00 L812.86,137.33 L813.06,112.00 L813.71,62.00 L813.81,41.00 L814.56,34.00 L814.96,34.00 L815.71,41.00 L815.81,62.00 L816.46,112.00 L816.66,137.33 L816.66,217.00 Z" fill="#bd3f1d"/>
<path d="M820.00,217.00 L820.00,137.33 L820.20,112.00 L820.85,62.00 L820.95,42.70 L821.70,35.70 L822.10,35.70 L822.85,42.70 L822.95,62.00 L823.60,112.00 L823.80,137.33 L823.80,217.00 Z" fill="#bd3f1d"/>
<path d="M827.14,217.00 L827.14,137.33 L827.34,112.00 L827.99,62.00 L828.09,43.50 L828.84,36.50 L829.24,36.50 L829.99,43.50 L830.09,62.00 L830.74,112.00 L830.94,137.33 L830.94,217.00 Z" fill="#bd3f1d"/>
<path d="M834.28,217.00 L834.28,137.33 L834.48,112.00 L835.13,62.00 L835.23,39.30 L835.98,32.30 L836.38,32.30 L837.13,39.30 L837.23,62.00 L837.88,112.00 L838.08,137.33 L838.08,217.00 Z" fill="#bd3f1d"/>
<path d="M841.42,217.00 L841.42,137.33 L841.62,112.00 L842.27,62.00 L842.37,42.00 L843.12,35.00 L843.52,35.00 L844.27,42.00 L844.37,62.00 L845.02,112.00 L845.22,137.33 L845.22,217.00 Z" fill="#bd3f1d"/>
<path d="M848.56,217.00 L848.56,137.33 L848.76,112.00 L849.41,62.00 L849.51,41.00 L850.26,34.00 L850.66,34.00 L851.41,41.00 L851.51,62.00 L852.16,112.00 L852.36,137.33 L852.36,217.00 Z" fill="#bd3f1d"/>
<path d="M884.80,217.00 L884.80,150.67 L885.00,150.00 L886.00,128.00 L887.00,122.00 L888.00,126.00 L889.00,124.00 L890.00,126.07 L890.00,217.00 Z" fill="#3b8a7e"/>
<path d="M890.00,217.00 L890.00,126.07 L890.80,128.39 L891.60,130.96 L892.40,125.72 L893.20,128.03 L894.00,127.27 L894.80,133.28 L895.60,127.90 L896.40,127.89 L897.20,128.59 L898.00,131.63 L898.80,135.91 L899.60,122.75 L900.40,137.90 L901.20,138.07 L902.00,134.37 L902.80,133.98 L903.60,140.02 L904.40,139.29 L905.20,134.71 L906.00,139.58 L906.80,137.85 L907.60,138.13 L908.40,138.15 L909.20,137.30 L910.00,136.42 L910.80,138.73 L911.60,139.57 L912.40,144.24 L913.20,138.57 L914.00,144.94 L914.80,132.49 L915.60,144.62 L916.40,145.02 L917.20,142.61 L918.00,140.25 L918.00,217.00 Z" fill="#3670b8"/>
<path d="M892.50,217.00 L892.50,126.01 L893.20,128.03 L894.00,127.27 L894.00,217.00 Z" fill="#3a7aa8"/>
<path d="M896.00,217.00 L896.00,127.90 L896.40,127.89 L897.20,128.59 L897.30,128.97 L897.30,217.00 Z" fill="#3a7aa8"/>
<path d="M918.00,217.00 L918.00,140.25 L918.80,143.71 L919.60,143.38 L920.40,147.72 L921.20,142.89 L922.00,144.52 L922.80,148.76 L923.60,142.92 L924.40,146.06 L925.00,148.56 L925.00,217.00 Z" fill="#58779c"/>
<path d="M925.00,217.00 L925.00,148.56 L925.20,149.39 L926.00,149.63 L926.80,140.15 L927.60,145.71 L928.40,152.45 L929.20,148.25 L930.00,152.35 L930.80,154.01 L931.60,150.56 L932.00,150.56 L932.00,217.00 Z" fill="#3670b8"/>
<path d="M932.00,217.00 L932.00,150.56 L932.40,150.56 L933.20,155.90 L934.00,153.84 L934.50,152.50 L934.50,217.00 Z" fill="#616c7c"/>
<path d="M316.00,217.00 L316.00,159.55 L316.10,159.69 L316.80,145.00 L317.50,157.82 L318.20,166.00 L318.60,160.31 L318.60,217.00 Z" fill="#666c75"/>
<path d="M330.00,217.00 L330.00,156.17 L330.10,155.89 L330.80,156.87 L331.50,155.17 L332.20,159.87 L332.60,157.97 L332.60,217.00 Z" fill="#666c75"/>
<path d="M352.00,217.00 L352.00,157.76 L352.50,156.41 L353.20,156.55 L353.90,159.50 L354.60,157.89 L354.60,217.00 Z" fill="#666c75"/>
<path d="M372.00,217.00 L372.00,156.65 L372.10,156.92 L372.80,140.00 L373.50,154.65 L374.20,158.00 L374.60,156.63 L374.60,217.00 Z" fill="#666c75"/>
<path d="M383.00,217.00 L383.00,157.09 L383.30,155.15 L384.00,159.52 L384.70,156.15 L385.40,156.65 L385.60,157.50 L385.60,217.00 Z" fill="#666c75"/>
<path d="M398.00,217.00 L398.00,156.17 L398.70,153.45 L399.40,158.94 L400.10,157.73 L400.60,158.54 L400.60,217.00 Z" fill="#666c75"/>
<path d="M612.00,217.00 L612.00,163.21 L612.40,162.70 L613.10,162.86 L613.80,159.46 L614.50,159.88 L614.60,159.97 L614.60,217.00 Z" fill="#666c75"/>
<path d="M644.00,217.00 L644.00,161.76 L644.60,165.16 L645.30,162.65 L646.00,159.85 L646.60,159.71 L646.60,217.00 Z" fill="#666c75"/>
<path d="M668.00,217.00 L668.00,161.80 L668.40,159.87 L669.10,163.70 L669.80,159.52 L670.50,159.54 L670.60,159.74 L670.60,217.00 Z" fill="#666c75"/>
<path d="M690.00,217.00 L690.00,160.05 L690.10,160.42 L690.80,161.78 L691.50,157.41 L692.20,159.72 L692.60,158.46 L692.60,217.00 Z" fill="#666c75"/>
<path d="M872.00,217.00 L872.00,154.95 L872.20,156.49 L873.00,156.60 L873.80,155.08 L874.60,152.97 L874.60,217.00 Z" fill="#666c75"/>
<path d="M878.00,217.00 L878.00,154.17 L878.60,154.24 L879.40,159.37 L880.20,155.27 L880.60,158.38 L880.60,217.00 Z" fill="#666c75"/>
<path d="M936.00,217.00 L936.00,154.12 L936.40,152.88 L937.20,152.98 L938.00,151.43 L938.60,155.79 L938.60,217.00 Z" fill="#666c75"/>
<path d="M944.00,217.00 L944.00,161.68 L944.40,161.91 L945.20,158.30 L946.00,157.81 L946.60,159.14 L946.60,217.00 Z" fill="#666c75"/>
<polyline points="2.00,178.00 3.00,174.00 4.50,177.00 6.00,189.00 7.50,183.00 9.00,191.00 10.50,182.00 12.00,178.00 13.50,180.00 14.60,182.00 15.00,218.00 16.20,218.00 16.60,150.00 17.20,122.00 18.80,121.00 19.70,127.00 21.00,135.00 22.30,146.00 23.40,152.00 23.20,165.00 23.00,179.00 24.00,175.00 25.00,173.00 26.00,172.31 26.80,170.76 27.60,173.38 28.40,169.31 29.20,171.70 30.00,170.17 30.80,167.61 31.60,169.74 32.40,166.18 33.20,167.98 34.00,165.07 34.80,164.55 35.60,165.97 36.40,167.81 37.20,162.80 38.00,162.77 38.80,164.62 39.60,165.95 40.40,163.00 41.20,161.23 42.00,164.18 42.80,157.76 43.60,162.17 44.40,158.25 45.20,156.94 46.00,156.38 46.80,157.16 47.60,159.91 48.40,155.57 49.20,157.66 50.00,157.53 50.80,155.34 51.60,155.90 52.40,152.36 53.20,151.80 54.00,152.18 54.80,154.59 55.60,152.48 56.40,151.25 57.20,152.35 58.00,150.82 58.80,149.16 59.60,151.51 60.40,150.21 61.20,146.68 62.00,149.13 62.80,149.89 63.60,153.13 64.40,153.29 65.20,150.06 66.00,153.64 66.80,147.59 67.60,148.74 68.40,150.13 69.20,145.88 70.00,148.10 70.80,145.44 71.60,149.48 72.40,150.21 73.20,149.15 74.00,151.16 74.80,147.81 75.60,149.41 76.40,147.72 77.20,146.56 78.00,144.73 78.80,146.64 79.60,146.82 80.40,143.44 81.20,144.15 82.00,139.94 82.80,143.45 83.60,142.65 84.40,144.36 85.20,142.90 86.00,139.16 86.80,139.39 87.60,140.75 88.40,136.34 89.20,138.66 90.00,136.44 90.80,136.06 91.60,135.63 92.40,139.96 93.20,135.94 94.00,136.60 94.80,137.42 95.60,140.34 96.40,135.13 97.20,136.88 98.00,136.97 98.80,138.51 99.60,137.58 100.40,137.32 101.20,133.16 102.00,133.47 102.80,132.59 103.60,135.32 104.40,135.24 105.20,129.70 106.00,129.33 106.80,129.14 107.60,128.61 108.40,129.71 109.20,129.95 110.00,127.53 110.80,125.53 111.60,127.70 113.00,127.00 113.80,122.50 114.60,128.00 115.20,131.00 115.70,150.00 116.50,157.00 117.50,153.00 118.50,156.00 119.50,153.00 120.50,155.00 121.50,152.00 122.50,156.00 123.40,154.00 123.80,218.00 127.60,218.00 128.00,160.00 128.70,143.00 129.60,150.00 130.50,153.00 131.50,157.00 132.50,152.00 133.50,156.00 134.50,160.00 135.00,175.00 135.60,158.00 136.50,151.00 137.50,154.00 138.50,150.00 139.50,155.00 140.50,151.00 141.50,154.00 142.50,151.00 143.50,156.00 144.30,157.00 143.70,157.35 144.30,150.00 144.60,112.00 145.25,62.00 145.35,43.00 146.10,36.00 146.50,36.00 147.25,43.00 147.35,62.00 148.00,112.00 148.30,150.00 149.47,159.03 150.70,159.98 151.46,150.00 151.76,112.00 152.41,62.00 152.51,44.00 153.26,37.00 153.66,37.00 154.41,44.00 154.51,62.00 155.16,112.00 155.46,150.00 156.47,159.44 157.77,157.21 158.62,150.00 158.92,112.00 159.57,62.00 159.67,44.00 160.42,37.00 160.82,37.00 161.57,44.00 161.67,62.00 162.32,112.00 162.62,150.00 163.74,160.74 164.99,162.23 165.78,150.00 166.08,112.00 166.73,62.00 166.83,41.50 167.58,34.50 167.98,34.50 168.73,41.50 168.83,62.00 169.48,112.00 169.78,150.00 170.44,157.69 171.92,158.36 172.94,150.00 173.24,112.00 173.89,62.00 173.99,42.00 174.74,35.00 175.14,35.00 175.89,42.00 175.99,62.00 176.64,112.00 176.94,150.00 177.67,155.04 179.11,153.35 180.10,150.00 180.40,112.00 181.05,62.00 181.15,45.00 181.90,38.00 182.30,38.00 183.05,45.00 183.15,62.00 183.80,112.00 184.10,150.00 184.70,154.92 186.21,153.18 187.26,150.00 187.56,112.00 188.21,62.00 188.31,40.60 189.06,33.60 189.46,33.60 190.21,40.60 190.31,62.00 190.96,112.00 191.26,150.00 191.88,157.41 193.38,159.28 194.42,150.00 194.72,112.00 195.37,62.00 195.47,44.00 196.22,37.00 196.62,37.00 197.37,44.00 197.47,62.00 198.12,112.00 198.42,150.00 199.17,155.69 200.61,154.93 201.58,150.00 201.88,112.00 202.53,62.00 202.63,42.00 203.38,35.00 203.78,35.00 204.53,42.00 204.63,62.00 205.28,112.00 205.58,150.00 206.69,155.48 207.94,157.95 208.74,150.00 209.04,112.00 209.69,62.00 209.79,42.00 210.54,35.00 210.94,35.00 211.69,42.00 211.79,62.00 212.44,112.00 212.74,150.00 213.39,158.37 214.88,156.38 215.90,150.00 216.20,112.00 216.85,62.00 216.95,42.00 217.70,35.00 218.10,35.00 218.85,42.00 218.95,62.00 219.60,112.00 219.90,150.00 221.00,156.62 222.26,154.93 223.06,150.00 223.36,112.00 224.01,62.00 224.11,42.00 224.86,35.00 225.26,35.00 226.01,42.00 226.11,62.00 226.76,112.00 227.06,150.00 227.98,162.11 229.33,160.34 230.22,150.00 230.52,112.00 231.17,62.00 231.27,45.70 232.02,38.70 232.42,38.70 233.17,45.70 233.27,62.00 233.92,112.00 234.22,150.00 235.14,154.72 236.49,157.11 237.38,150.00 237.68,112.00 238.33,62.00 238.43,41.50 239.18,34.50 239.58,34.50 240.33,41.50 240.43,62.00 241.08,112.00 241.38,150.00 242.14,160.07 243.57,159.40 244.54,150.00 244.84,112.00 245.49,62.00 245.59,44.00 246.34,37.00 246.74,37.00 247.49,44.00 247.59,62.00 248.24,112.00 248.54,150.00 249.46,160.68 250.81,162.07 251.70,150.00 252.00,112.00 252.65,62.00 252.75,42.00 253.50,35.00 253.90,35.00 254.65,42.00 254.75,62.00 255.40,112.00 255.70,150.00 256.79,156.28 258.05,158.71 258.86,150.00 259.16,112.00 259.81,62.00 259.91,43.00 260.66,36.00 261.06,36.00 261.81,43.00 261.91,62.00 262.56,112.00 262.86,150.00 263.95,160.95 265.22,162.15 266.02,150.00 266.32,112.00 266.97,62.00 267.07,43.00 267.82,36.00 268.22,36.00 268.97,43.00 269.07,62.00 269.72,112.00 270.02,150.00 270.83,158.64 272.24,156.29 273.18,150.00 273.48,112.00 274.13,62.00 274.23,44.00 274.98,37.00 275.38,37.00 276.13,44.00 276.23,62.00 276.88,112.00 277.18,150.00 277.94,156.74 279.37,157.70 280.34,150.00 280.64,112.00 281.29,62.00 281.39,49.00 281.89,42.00 282.22,30.00 282.46,30.00 282.79,42.00 283.29,49.00 283.39,62.00 284.04,112.00 284.34,150.00 284.94,158.08 285.40,158.00 286.50,166.00 287.20,141.00 288.00,140.00 288.80,158.00 289.50,159.43 290.20,159.68 290.90,159.43 291.60,155.83 292.30,154.92 293.00,154.90 293.70,154.66 294.40,154.66 295.10,157.12 295.80,158.72 296.50,158.31 297.20,156.09 297.90,157.08 298.60,157.91 299.30,153.56 300.00,156.96 300.70,158.49 301.40,157.76 302.10,157.61 302.80,156.01 303.50,154.25 304.20,157.94 304.90,155.24 305.60,158.08 306.30,159.14 307.00,155.73 307.70,155.79 308.40,159.10 309.10,157.80 309.80,178.00 310.50,154.55 311.20,150.00 311.90,154.36 312.60,154.54 313.30,159.09 314.00,158.54 314.70,154.61 315.40,158.73 316.10,159.69 316.80,145.00 317.50,157.82 318.20,166.00 318.90,156.05 319.60,157.27 320.30,154.80 321.00,154.12 321.70,159.88 322.40,157.98 323.10,157.26 323.80,159.73 324.50,156.75 325.20,159.40 325.90,159.15 326.60,155.49 327.30,155.75 328.00,156.02 328.70,155.73 329.40,157.83 330.10,155.89 330.80,156.87 331.50,155.17 332.20,159.87 332.90,156.55 333.60,157.20 334.30,157.98 335.00,159.93 335.70,157.05 336.40,160.05 337.10,157.58 337.80,168.00 338.50,157.81 339.20,157.78 339.90,154.78 340.60,157.33 341.30,155.81 342.00,154.76 342.70,170.00 343.40,170.00 344.10,148.00 344.80,159.62 345.50,155.88 346.20,157.71 346.90,159.25 347.60,158.26 348.30,156.90 349.00,158.08 349.70,158.32 350.40,159.69 351.10,155.60 351.80,158.30 352.50,156.41 353.20,156.55 353.90,159.50 354.60,157.89 355.30,158.19 356.00,159.36 356.70,160.25 357.40,157.41 358.10,158.41 358.80,157.74 359.50,157.76 360.20,158.82 360.90,157.35 361.60,157.81 362.30,157.46 363.00,160.22 363.70,170.00 364.40,170.00 365.10,158.69 365.80,145.00 366.50,159.71 367.20,160.08 367.90,155.96 368.60,157.74 369.30,160.02 370.00,159.37 370.70,155.13 371.40,155.02 372.10,156.92 372.80,140.00 373.50,154.65 374.20,158.00 374.90,155.61 375.60,154.59 376.30,158.14 377.00,170.00 377.70,158.78 378.40,159.44 379.10,154.96 379.80,158.30 380.50,157.94 381.20,154.80 381.90,159.20 382.60,159.68 383.30,155.15 384.00,159.52 384.70,156.15 385.40,156.65 386.10,159.63 386.80,158.65 387.50,154.59 388.20,172.00 388.90,142.00 389.60,156.11 390.30,156.58 391.00,155.48 391.70,154.59 392.40,155.29 393.10,157.68 393.80,153.43 394.50,156.60 395.20,155.88 395.90,153.31 396.60,155.16 397.30,156.88 398.00,156.17 398.70,153.45 399.40,158.94 400.10,157.73 400.80,158.86 401.50,153.68 402.20,148.00 402.90,154.70 403.60,153.37 404.30,157.83 405.00,154.81 405.70,153.99 406.40,155.77 407.10,158.73 407.80,158.20 408.50,154.87 409.20,154.24 409.90,144.00 410.60,158.91 411.30,156.84 412.00,172.00 412.70,157.67 413.40,154.03 414.10,175.00 414.80,153.89 415.50,157.70 416.20,156.15 416.90,154.06 417.60,159.28 418.30,157.48 419.00,158.51 419.70,154.23 420.40,158.89 421.10,154.18 421.80,158.98 422.50,156.56 423.20,150.00 423.90,155.92 424.60,157.23 425.30,159.50 426.00,155.57 426.70,154.76 427.50,156.00 427.70,160.13 428.30,150.00 428.60,112.00 429.25,62.00 429.35,40.00 429.85,33.00 430.18,17.00 430.42,17.00 430.75,33.00 431.25,40.00 431.35,62.00 432.00,112.00 432.30,150.00 432.97,158.41 434.44,156.71 435.46,150.00 435.76,112.00 436.41,62.00 436.51,42.00 437.26,35.00 437.66,35.00 438.41,42.00 438.51,62.00 439.16,112.00 439.46,150.00 440.25,158.11 441.66,157.14 442.62,150.00 442.92,112.00 443.57,62.00 443.67,42.00 444.42,35.00 444.82,35.00 445.57,42.00 445.67,62.00 446.32,112.00 446.62,150.00 447.52,158.82 448.88,157.21 449.78,150.00 450.08,112.00 450.73,62.00 450.83,40.00 451.58,33.00 451.98,33.00 452.73,40.00 452.83,62.00 453.48,112.00 453.78,150.00 454.53,156.65 455.97,154.22 456.94,150.00 457.24,112.00 457.89,62.00 457.99,42.70 458.74,35.70 459.14,35.70 459.89,42.70 459.99,62.00 460.64,112.00 460.94,150.00 461.65,160.91 463.11,160.78 464.10,150.00 464.40,112.00 465.05,62.00 465.15,42.70 465.90,35.70 466.30,35.70 467.05,42.70 467.15,62.00 467.80,112.00 468.10,150.00 469.19,157.35 470.46,157.01 471.26,150.00 471.56,112.00 472.21,62.00 472.31,42.70 473.06,35.70 473.46,35.70 474.21,42.70 474.31,62.00 474.96,112.00 475.26,150.00 476.10,163.18 477.49,163.21 478.42,150.00 478.72,112.00 479.37,62.00 479.47,42.70 480.22,35.70 480.62,35.70 481.37,42.70 481.47,62.00 482.12,112.00 482.42,150.00 483.23,164.36 484.63,166.02 485.58,150.00 485.88,112.00 486.53,62.00 486.63,42.00 487.38,35.00 487.78,35.00 488.53,42.00 488.63,62.00 489.28,112.00 489.58,150.00 490.42,161.59 491.81,160.83 492.74,150.00 493.04,112.00 493.69,62.00 493.79,43.50 494.54,36.50 494.94,36.50 495.69,43.50 495.79,62.00 496.44,112.00 496.74,150.00 497.38,157.54 498.87,158.74 499.90,150.00 500.20,112.00 500.85,62.00 500.95,41.00 501.70,34.00 502.10,34.00 502.85,41.00 502.95,62.00 503.60,112.00 503.90,150.00 504.55,157.81 506.04,159.51 507.06,150.00 507.36,112.00 508.01,62.00 508.11,37.00 508.86,30.00 509.26,30.00 510.01,37.00 510.11,62.00 510.76,112.00 511.06,150.00 511.83,161.86 513.25,160.58 514.22,150.00 514.52,112.00 515.17,62.00 515.27,40.00 516.02,33.00 516.42,33.00 517.17,40.00 517.27,62.00 517.92,112.00 518.22,150.00 518.91,160.18 520.38,159.90 521.38,150.00 521.68,112.00 522.33,62.00 522.43,42.00 523.18,35.00 523.58,35.00 524.33,42.00 524.43,62.00 525.08,112.00 525.38,150.00 526.56,164.19 527.78,164.43 528.54,150.00 528.84,112.00 529.49,62.00 529.59,42.00 530.34,35.00 530.74,35.00 531.49,42.00 531.59,62.00 532.24,112.00 532.54,150.00 533.33,164.23 534.74,163.51 535.70,150.00 536.00,112.00 536.65,62.00 536.75,42.70 537.50,35.70 537.90,35.70 538.65,42.70 538.75,62.00 539.40,112.00 539.70,150.00 540.58,159.55 541.95,159.57 542.86,150.00 543.16,112.00 543.81,62.00 543.91,44.40 544.66,37.40 545.06,37.40 545.81,44.40 545.91,62.00 546.56,112.00 546.86,150.00 547.46,160.54 548.97,159.36 550.02,150.00 550.32,112.00 550.97,62.00 551.07,42.70 551.82,35.70 552.22,35.70 552.97,42.70 553.07,62.00 553.72,112.00 554.02,150.00 554.65,159.70 556.14,157.31 557.18,150.00 557.48,112.00 558.13,62.00 558.23,41.00 558.98,34.00 559.38,34.00 560.13,41.00 560.23,62.00 560.88,112.00 561.18,150.00 562.13,158.36 563.47,158.51 564.34,150.00 564.64,112.00 565.29,62.00 565.39,45.00 566.14,38.00 566.54,38.00 567.29,45.00 567.39,62.00 568.04,112.00 568.34,150.00 568.94,161.76 569.50,175.00 570.50,147.00 571.50,155.00 572.50,157.35 573.20,158.41 573.90,155.55 574.60,155.25 575.30,159.28 576.00,154.34 576.70,157.87 577.40,157.46 578.10,153.94 578.80,158.77 579.50,159.18 580.20,157.68 580.90,158.39 581.60,158.94 582.30,154.98 583.00,157.36 583.70,157.33 584.40,159.39 585.10,159.28 585.80,159.49 586.50,158.12 587.20,160.05 587.90,158.86 588.60,159.00 589.30,156.30 590.00,155.19 590.70,156.08 591.40,157.72 592.10,156.47 592.80,161.13 593.50,159.75 594.20,160.45 594.90,160.72 595.60,161.32 596.30,160.46 597.00,172.00 597.70,160.00 598.40,158.38 599.10,163.43 599.80,163.41 600.50,162.02 601.20,162.21 601.90,162.96 602.60,159.40 603.30,163.42 604.00,160.51 604.70,159.45 605.40,160.59 606.10,163.38 606.80,160.23 607.50,163.44 608.20,164.85 608.90,161.96 609.60,161.30 610.30,161.87 611.00,163.10 611.70,163.60 612.40,162.70 613.10,162.86 613.80,159.46 614.50,159.88 615.20,160.52 615.90,163.46 616.60,160.83 617.30,162.41 618.00,159.07 618.70,159.36 619.40,160.61 620.10,163.04 620.80,163.19 621.50,163.13 622.20,160.86 622.90,162.24 623.60,161.97 624.30,162.01 625.00,159.96 625.70,150.00 626.40,164.68 627.10,148.00 627.80,160.59 628.50,165.29 629.20,174.00 629.90,165.00 630.60,165.15 631.30,159.67 632.00,162.35 632.70,164.55 633.40,165.48 634.10,162.40 634.80,161.35 635.50,161.03 636.20,165.48 636.90,161.11 637.60,163.37 638.30,160.77 639.00,163.09 639.70,165.70 640.40,160.78 641.10,164.87 641.80,162.96 642.50,165.20 643.20,164.06 643.90,161.19 644.60,165.16 645.30,162.65 646.00,159.85 646.70,159.69 647.40,162.58 648.10,162.30 648.80,161.37 649.50,160.37 650.20,161.55 650.90,161.35 651.60,164.46 652.30,159.40 653.00,163.85 653.70,164.35 654.40,160.00 655.10,150.00 655.80,156.00 656.50,164.73 657.20,163.42 657.90,174.00 658.60,172.00 659.30,172.00 660.00,164.41 660.70,160.67 661.40,161.09 662.10,161.15 662.80,164.71 663.50,162.19 664.20,160.74 664.90,161.08 665.60,160.09 666.30,158.66 667.00,158.91 667.70,163.24 668.40,159.87 669.10,163.70 669.80,159.52 670.50,159.54 671.20,160.95 671.90,158.95 672.60,159.98 673.30,163.41 674.00,162.91 674.70,162.40 675.40,161.25 676.10,162.87 676.80,162.96 677.50,160.55 678.20,161.50 678.90,157.41 679.60,161.43 680.30,159.68 681.00,161.42 681.70,160.70 682.40,158.48 683.10,156.98 683.80,162.18 684.50,157.31 685.20,159.31 685.90,153.00 686.60,152.00 687.30,152.00 688.00,158.26 688.70,170.00 689.40,157.85 690.10,160.42 690.80,161.78 691.50,157.41 692.20,159.72 692.90,157.52 693.60,158.98 694.30,157.94 695.00,156.50 695.70,156.40 696.40,156.61 697.10,160.73 697.80,158.20 698.50,156.47 699.20,160.52 699.90,160.99 700.60,157.81 701.30,156.07 702.00,156.52 702.70,146.00 703.40,156.16 704.10,211.00 704.80,211.00 705.50,158.05 706.20,165.00 706.90,156.80 707.60,172.00 708.30,172.00 709.00,158.07 709.70,158.31 710.40,160.31 712.00,158.00 712.20,160.94 712.80,150.00 713.10,112.00 713.75,62.00 713.85,36.80 714.60,29.80 715.00,29.80 715.75,36.80 715.85,62.00 716.50,112.00 716.80,150.00 717.65,161.50 719.01,161.07 719.94,150.00 720.24,112.00 720.89,62.00 720.99,40.00 721.74,33.00 722.14,33.00 722.89,40.00 722.99,62.00 723.64,112.00 723.94,150.00 724.74,158.51 726.13,156.33 727.08,150.00 727.38,112.00 728.03,62.00 728.13,42.70 728.88,35.70 729.28,35.70 730.03,42.70 730.13,62.00 730.78,112.00 731.08,150.00 731.76,163.24 733.21,163.26 734.22,150.00 734.52,112.00 735.17,62.00 735.27,39.30 736.02,32.30 736.42,32.30 737.17,39.30 737.27,62.00 737.92,112.00 738.22,150.00 738.95,162.40 740.37,161.26 741.36,150.00 741.66,112.00 742.31,62.00 742.41,46.00 743.16,39.00 743.56,39.00 744.31,46.00 744.41,62.00 745.06,112.00 745.36,150.00 746.23,158.70 747.58,160.97 748.50,150.00 748.80,112.00 749.45,62.00 749.55,40.00 750.30,33.00 750.70,33.00 751.45,40.00 751.55,62.00 752.20,112.00 752.50,150.00 753.11,162.48 754.60,160.14 755.64,150.00 755.94,112.00 756.59,62.00 756.69,45.00 757.44,38.00 757.84,38.00 758.59,45.00 758.69,62.00 759.34,112.00 759.64,150.00 760.52,162.67 761.87,163.10 762.78,150.00 763.08,112.00 763.73,62.00 763.83,37.60 764.58,30.60 764.98,30.60 765.73,37.60 765.83,62.00 766.48,112.00 766.78,150.00 767.94,158.63 769.15,160.26 769.92,150.00 770.22,112.00 770.87,62.00 770.97,41.00 771.72,34.00 772.12,34.00 772.87,41.00 772.97,62.00 773.62,112.00 773.92,150.00 774.67,163.28 776.08,161.32 777.06,150.00 777.36,112.00 778.01,62.00 778.11,40.00 778.86,33.00 779.26,33.00 780.01,40.00 780.11,62.00 780.76,112.00 781.06,150.00 782.07,159.68 783.35,161.89 784.20,150.00 784.50,112.00 785.15,62.00 785.25,42.00 786.00,35.00 786.40,35.00 787.15,42.00 787.25,62.00 787.90,112.00 788.20,150.00 789.26,160.68 790.52,160.47 791.34,150.00 791.64,112.00 792.29,62.00 792.39,39.30 793.14,32.30 793.54,32.30 794.29,39.30 794.39,62.00 795.04,112.00 795.34,150.00 796.41,155.82 797.66,154.48 798.48,150.00 798.78,112.00 799.43,62.00 799.53,42.70 800.28,35.70 800.68,35.70 801.43,42.70 801.53,62.00 802.18,112.00 802.48,150.00 803.26,160.66 804.66,158.80 805.62,150.00 805.92,112.00 806.57,62.00 806.67,42.00 807.42,35.00 807.82,35.00 808.57,42.00 808.67,62.00 809.32,112.00 809.62,150.00 810.64,160.59 811.92,158.65 812.76,150.00 813.06,112.00 813.71,62.00 813.81,41.00 814.56,34.00 814.96,34.00 815.71,41.00 815.81,62.00 816.46,112.00 816.76,150.00 817.71,159.70 819.02,159.14 819.90,150.00 820.20,112.00 820.85,62.00 820.95,42.70 821.70,35.70 822.10,35.70 822.85,42.70 822.95,62.00 823.60,112.00 823.90,150.00 824.51,160.31 825.99,159.32 827.04,150.00 827.34,112.00 827.99,62.00 828.09,43.50 828.84,36.50 829.24,36.50 829.99,43.50 830.09,62.00 830.74,112.00 831.04,150.00 832.03,163.17 833.32,165.09 834.18,150.00 834.48,112.00 835.13,62.00 835.23,39.30 835.98,32.30 836.38,32.30 837.13,39.30 837.23,62.00 837.88,112.00 838.18,150.00 838.93,157.38 840.34,159.68 841.32,150.00 841.62,112.00 842.27,62.00 842.37,42.00 843.12,35.00 843.52,35.00 844.27,42.00 844.37,62.00 845.02,112.00 845.32,150.00 845.93,157.96 847.42,157.95 848.46,150.00 848.76,112.00 849.41,62.00 849.51,41.00 850.26,34.00 850.66,34.00 851.41,41.00 851.51,62.00 852.16,112.00 852.46,150.00 853.06,158.86 853.50,158.00 855.00,157.00 856.50,159.00 858.00,156.00 859.30,158.00 859.80,104.00 860.60,104.00 861.20,160.00 862.50,152.00 864.00,156.00 865.00,153.10 865.80,156.34 866.60,158.18 867.40,151.22 868.20,148.91 869.00,151.18 869.80,151.40 870.60,154.16 871.40,150.34 872.20,156.49 873.00,156.60 873.80,155.08 874.60,152.97 875.40,160.41 876.20,154.53 877.00,159.39 877.80,154.15 878.60,154.24 879.40,159.37 880.20,155.27 881.00,161.49 881.80,157.47 882.60,154.81 883.40,155.32 885.00,150.00 886.00,128.00 887.00,122.00 888.00,126.00 889.00,124.00 890.00,126.07 890.80,128.39 891.60,130.96 892.40,125.72 893.20,128.03 894.00,127.27 894.80,133.28 895.60,127.90 896.40,127.89 897.20,128.59 898.00,131.63 898.80,135.91 899.60,122.75 900.40,137.90 901.20,138.07 902.00,134.37 902.80,133.98 903.60,140.02 904.40,139.29 905.20,134.71 906.00,139.58 906.80,137.85 907.60,138.13 908.40,138.15 909.20,137.30 910.00,136.42 910.80,138.73 911.60,139.57 912.40,144.24 913.20,138.57 914.00,144.94 914.80,132.49 915.60,144.62 916.40,145.02 917.20,142.61 918.00,140.25 918.80,143.71 919.60,143.38 920.40,147.72 921.20,142.89 922.00,144.52 922.80,148.76 923.60,142.92 924.40,146.06 925.20,149.39 926.00,149.63 926.80,140.15 927.60,145.71 928.40,152.45 929.20,148.25 930.00,152.35 930.80,154.01 931.60,150.56 932.40,150.56 933.20,155.90 934.00,153.84 934.80,151.69 935.60,155.36 936.40,152.88 937.20,152.98 938.00,151.43 938.80,157.24 939.60,158.80 940.40,157.20 941.20,159.91 942.00,148.26 942.80,157.50 943.60,161.45 944.40,161.91 945.20,158.30 946.00,157.81 946.80,159.58 947.60,160.51 948.40,164.12 949.20,159.24 950.00,164.18 950.80,164.04 951.60,164.96 952.40,164.92 953.20,164.05 954.00,162.36 954.80,162.62 955.60,163.25 956.40,166.59 957.20,161.85 958.00,154.19 958.80,163.70 959.60,162.71 960.40,162.88 961.20,167.10 962.00,165.95 962.80,171.14 963.60,170.92 964.40,172.15 965.20,167.43 966.00,166.61 966.80,167.17 967.60,170.55 968.40,172.55 969.20,171.14 970.00,170.09 970.80,171.72 971.60,161.94 972.40,161.57 973.20,174.46 974.00,170.87 974.80,176.37 975.60,172.76 976.40,175.04 977.20,173.97 978.00,176.91 978.80,173.35 979.60,174.02 980.40,174.33 981.20,173.98 982.00,179.57 982.80,177.68 983.60,167.86 984.40,167.73 985.20,176.15 986.00,180.62 986.80,179.82 987.60,182.57 988.40,176.50 989.20,179.50 990.00,182.30 990.80,182.93 991.60,183.94 992.40,178.13 993.20,180.43 994.00,179.66 994.80,180.64 996.00,185.00 997.00,187.00 997.40,216.00" fill="none" stroke="#fff" stroke-width="1.65" stroke-linejoin="round" stroke-linecap="round"/>
<polyline points="143.70,157.35 144.30,150.00 144.60,112.00 145.25,62.00 145.35,43.00 146.10,36.00 146.50,36.00 147.25,43.00 147.35,62.00 148.00,112.00 148.30,150.00 149.47,159.03 150.70,159.98 151.46,150.00 151.76,112.00 152.41,62.00 152.51,44.00 153.26,37.00 153.66,37.00 154.41,44.00 154.51,62.00 155.16,112.00 155.46,150.00 156.47,159.44 157.77,157.21 158.62,150.00 158.92,112.00 159.57,62.00 159.67,44.00 160.42,37.00 160.82,37.00 161.57,44.00 161.67,62.00 162.32,112.00 162.62,150.00 163.74,160.74 164.99,162.23 165.78,150.00 166.08,112.00 166.73,62.00 166.83,41.50 167.58,34.50 167.98,34.50 168.73,41.50 168.83,62.00 169.48,112.00 169.78,150.00 170.44,157.69 171.92,158.36 172.94,150.00 173.24,112.00 173.89,62.00 173.99,42.00 174.74,35.00 175.14,35.00 175.89,42.00 175.99,62.00 176.64,112.00 176.94,150.00 177.67,155.04 179.11,153.35 180.10,150.00 180.40,112.00 181.05,62.00 181.15,45.00 181.90,38.00 182.30,38.00 183.05,45.00 183.15,62.00 183.80,112.00 184.10,150.00 184.70,154.92 186.21,153.18 187.26,150.00 187.56,112.00 188.21,62.00 188.31,40.60 189.06,33.60 189.46,33.60 190.21,40.60 190.31,62.00 190.96,112.00 191.26,150.00 191.88,157.41 193.38,159.28 194.42,150.00 194.72,112.00 195.37,62.00 195.47,44.00 196.22,37.00 196.62,37.00 197.37,44.00 197.47,62.00 198.12,112.00 198.42,150.00 199.17,155.69 200.61,154.93 201.58,150.00 201.88,112.00 202.53,62.00 202.63,42.00 203.38,35.00 203.78,35.00 204.53,42.00 204.63,62.00 205.28,112.00 205.58,150.00 206.69,155.48 207.94,157.95 208.74,150.00 209.04,112.00 209.69,62.00 209.79,42.00 210.54,35.00 210.94,35.00 211.69,42.00 211.79,62.00 212.44,112.00 212.74,150.00 213.39,158.37 214.88,156.38 215.90,150.00 216.20,112.00 216.85,62.00 216.95,42.00 217.70,35.00 218.10,35.00 218.85,42.00 218.95,62.00 219.60,112.00 219.90,150.00 221.00,156.62 222.26,154.93 223.06,150.00 223.36,112.00 224.01,62.00 224.11,42.00 224.86,35.00 225.26,35.00 226.01,42.00 226.11,62.00 226.76,112.00 227.06,150.00 227.98,162.11 229.33,160.34 230.22,150.00 230.52,112.00 231.17,62.00 231.27,45.70 232.02,38.70 232.42,38.70 233.17,45.70 233.27,62.00 233.92,112.00 234.22,150.00 235.14,154.72 236.49,157.11 237.38,150.00 237.68,112.00 238.33,62.00 238.43,41.50 239.18,34.50 239.58,34.50 240.33,41.50 240.43,62.00 241.08,112.00 241.38,150.00 242.14,160.07 243.57,159.40 244.54,150.00 244.84,112.00 245.49,62.00 245.59,44.00 246.34,37.00 246.74,37.00 247.49,44.00 247.59,62.00 248.24,112.00 248.54,150.00 249.46,160.68 250.81,162.07 251.70,150.00 252.00,112.00 252.65,62.00 252.75,42.00 253.50,35.00 253.90,35.00 254.65,42.00 254.75,62.00 255.40,112.00 255.70,150.00 256.79,156.28 258.05,158.71 258.86,150.00 259.16,112.00 259.81,62.00 259.91,43.00 260.66,36.00 261.06,36.00 261.81,43.00 261.91,62.00 262.56,112.00 262.86,150.00 263.95,160.95 265.22,162.15 266.02,150.00 266.32,112.00 266.97,62.00 267.07,43.00 267.82,36.00 268.22,36.00 268.97,43.00 269.07,62.00 269.72,112.00 270.02,150.00 270.83,158.64 272.24,156.29 273.18,150.00 273.48,112.00 274.13,62.00 274.23,44.00 274.98,37.00 275.38,37.00 276.13,44.00 276.23,62.00 276.88,112.00 277.18,150.00 277.94,156.74 279.37,157.70 280.34,150.00 280.64,112.00 281.29,62.00 281.39,49.00 281.89,42.00 282.22,30.00 282.46,30.00 282.79,42.00 283.29,49.00 283.39,62.00 284.04,112.00 284.34,150.00 284.94,158.08" fill="none" stroke="#fff" stroke-width="2.15" stroke-linejoin="round" stroke-linecap="round"/>
<polyline points="427.70,160.13 428.30,150.00 428.60,112.00 429.25,62.00 429.35,40.00 429.85,33.00 430.18,17.00 430.42,17.00 430.75,33.00 431.25,40.00 431.35,62.00 432.00,112.00 432.30,150.00 432.97,158.41 434.44,156.71 435.46,150.00 435.76,112.00 436.41,62.00 436.51,42.00 437.26,35.00 437.66,35.00 438.41,42.00 438.51,62.00 439.16,112.00 439.46,150.00 440.25,158.11 441.66,157.14 442.62,150.00 442.92,112.00 443.57,62.00 443.67,42.00 444.42,35.00 444.82,35.00 445.57,42.00 445.67,62.00 446.32,112.00 446.62,150.00 447.52,158.82 448.88,157.21 449.78,150.00 450.08,112.00 450.73,62.00 450.83,40.00 451.58,33.00 451.98,33.00 452.73,40.00 452.83,62.00 453.48,112.00 453.78,150.00 454.53,156.65 455.97,154.22 456.94,150.00 457.24,112.00 457.89,62.00 457.99,42.70 458.74,35.70 459.14,35.70 459.89,42.70 459.99,62.00 460.64,112.00 460.94,150.00 461.65,160.91 463.11,160.78 464.10,150.00 464.40,112.00 465.05,62.00 465.15,42.70 465.90,35.70 466.30,35.70 467.05,42.70 467.15,62.00 467.80,112.00 468.10,150.00 469.19,157.35 470.46,157.01 471.26,150.00 471.56,112.00 472.21,62.00 472.31,42.70 473.06,35.70 473.46,35.70 474.21,42.70 474.31,62.00 474.96,112.00 475.26,150.00 476.10,163.18 477.49,163.21 478.42,150.00 478.72,112.00 479.37,62.00 479.47,42.70 480.22,35.70 480.62,35.70 481.37,42.70 481.47,62.00 482.12,112.00 482.42,150.00 483.23,164.36 484.63,166.02 485.58,150.00 485.88,112.00 486.53,62.00 486.63,42.00 487.38,35.00 487.78,35.00 488.53,42.00 488.63,62.00 489.28,112.00 489.58,150.00 490.42,161.59 491.81,160.83 492.74,150.00 493.04,112.00 493.69,62.00 493.79,43.50 494.54,36.50 494.94,36.50 495.69,43.50 495.79,62.00 496.44,112.00 496.74,150.00 497.38,157.54 498.87,158.74 499.90,150.00 500.20,112.00 500.85,62.00 500.95,41.00 501.70,34.00 502.10,34.00 502.85,41.00 502.95,62.00 503.60,112.00 503.90,150.00 504.55,157.81 506.04,159.51 507.06,150.00 507.36,112.00 508.01,62.00 508.11,37.00 508.86,30.00 509.26,30.00 510.01,37.00 510.11,62.00 510.76,112.00 511.06,150.00 511.83,161.86 513.25,160.58 514.22,150.00 514.52,112.00 515.17,62.00 515.27,40.00 516.02,33.00 516.42,33.00 517.17,40.00 517.27,62.00 517.92,112.00 518.22,150.00 518.91,160.18 520.38,159.90 521.38,150.00 521.68,112.00 522.33,62.00 522.43,42.00 523.18,35.00 523.58,35.00 524.33,42.00 524.43,62.00 525.08,112.00 525.38,150.00 526.56,164.19 527.78,164.43 528.54,150.00 528.84,112.00 529.49,62.00 529.59,42.00 530.34,35.00 530.74,35.00 531.49,42.00 531.59,62.00 532.24,112.00 532.54,150.00 533.33,164.23 534.74,163.51 535.70,150.00 536.00,112.00 536.65,62.00 536.75,42.70 537.50,35.70 537.90,35.70 538.65,42.70 538.75,62.00 539.40,112.00 539.70,150.00 540.58,159.55 541.95,159.57 542.86,150.00 543.16,112.00 543.81,62.00 543.91,44.40 544.66,37.40 545.06,37.40 545.81,44.40 545.91,62.00 546.56,112.00 546.86,150.00 547.46,160.54 548.97,159.36 550.02,150.00 550.32,112.00 550.97,62.00 551.07,42.70 551.82,35.70 552.22,35.70 552.97,42.70 553.07,62.00 553.72,112.00 554.02,150.00 554.65,159.70 556.14,157.31 557.18,150.00 557.48,112.00 558.13,62.00 558.23,41.00 558.98,34.00 559.38,34.00 560.13,41.00 560.23,62.00 560.88,112.00 561.18,150.00 562.13,158.36 563.47,158.51 564.34,150.00 564.64,112.00 565.29,62.00 565.39,45.00 566.14,38.00 566.54,38.00 567.29,45.00 567.39,62.00 568.04,112.00 568.34,150.00 568.94,161.76" fill="none" stroke="#fff" stroke-width="2.15" stroke-linejoin="round" stroke-linecap="round"/>
<polyline points="712.20,160.94 712.80,150.00 713.10,112.00 713.75,62.00 713.85,36.80 714.60,29.80 715.00,29.80 715.75,36.80 715.85,62.00 716.50,112.00 716.80,150.00 717.65,161.50 719.01,161.07 719.94,150.00 720.24,112.00 720.89,62.00 720.99,40.00 721.74,33.00 722.14,33.00 722.89,40.00 722.99,62.00 723.64,112.00 723.94,150.00 724.74,158.51 726.13,156.33 727.08,150.00 727.38,112.00 728.03,62.00 728.13,42.70 728.88,35.70 729.28,35.70 730.03,42.70 730.13,62.00 730.78,112.00 731.08,150.00 731.76,163.24 733.21,163.26 734.22,150.00 734.52,112.00 735.17,62.00 735.27,39.30 736.02,32.30 736.42,32.30 737.17,39.30 737.27,62.00 737.92,112.00 738.22,150.00 738.95,162.40 740.37,161.26 741.36,150.00 741.66,112.00 742.31,62.00 742.41,46.00 743.16,39.00 743.56,39.00 744.31,46.00 744.41,62.00 745.06,112.00 745.36,150.00 746.23,158.70 747.58,160.97 748.50,150.00 748.80,112.00 749.45,62.00 749.55,40.00 750.30,33.00 750.70,33.00 751.45,40.00 751.55,62.00 752.20,112.00 752.50,150.00 753.11,162.48 754.60,160.14 755.64,150.00 755.94,112.00 756.59,62.00 756.69,45.00 757.44,38.00 757.84,38.00 758.59,45.00 758.69,62.00 759.34,112.00 759.64,150.00 760.52,162.67 761.87,163.10 762.78,150.00 763.08,112.00 763.73,62.00 763.83,37.60 764.58,30.60 764.98,30.60 765.73,37.60 765.83,62.00 766.48,112.00 766.78,150.00 767.94,158.63 769.15,160.26 769.92,150.00 770.22,112.00 770.87,62.00 770.97,41.00 771.72,34.00 772.12,34.00 772.87,41.00 772.97,62.00 773.62,112.00 773.92,150.00 774.67,163.28 776.08,161.32 777.06,150.00 777.36,112.00 778.01,62.00 778.11,40.00 778.86,33.00 779.26,33.00 780.01,40.00 780.11,62.00 780.76,112.00 781.06,150.00 782.07,159.68 783.35,161.89 784.20,150.00 784.50,112.00 785.15,62.00 785.25,42.00 786.00,35.00 786.40,35.00 787.15,42.00 787.25,62.00 787.90,112.00 788.20,150.00 789.26,160.68 790.52,160.47 791.34,150.00 791.64,112.00 792.29,62.00 792.39,39.30 793.14,32.30 793.54,32.30 794.29,39.30 794.39,62.00 795.04,112.00 795.34,150.00 796.41,155.82 797.66,154.48 798.48,150.00 798.78,112.00 799.43,62.00 799.53,42.70 800.28,35.70 800.68,35.70 801.43,42.70 801.53,62.00 802.18,112.00 802.48,150.00 803.26,160.66 804.66,158.80 805.62,150.00 805.92,112.00 806.57,62.00 806.67,42.00 807.42,35.00 807.82,35.00 808.57,42.00 808.67,62.00 809.32,112.00 809.62,150.00 810.64,160.59 811.92,158.65 812.76,150.00 813.06,112.00 813.71,62.00 813.81,41.00 814.56,34.00 814.96,34.00 815.71,41.00 815.81,62.00 816.46,112.00 816.76,150.00 817.71,159.70 819.02,159.14 819.90,150.00 820.20,112.00 820.85,62.00 820.95,42.70 821.70,35.70 822.10,35.70 822.85,42.70 822.95,62.00 823.60,112.00 823.90,150.00 824.51,160.31 825.99,159.32 827.04,150.00 827.34,112.00 827.99,62.00 828.09,43.50 828.84,36.50 829.24,36.50 829.99,43.50 830.09,62.00 830.74,112.00 831.04,150.00 832.03,163.17 833.32,165.09 834.18,150.00 834.48,112.00 835.13,62.00 835.23,39.30 835.98,32.30 836.38,32.30 837.13,39.30 837.23,62.00 837.88,112.00 838.18,150.00 838.93,157.38 840.34,159.68 841.32,150.00 841.62,112.00 842.27,62.00 842.37,42.00 843.12,35.00 843.52,35.00 844.27,42.00 844.37,62.00 845.02,112.00 845.32,150.00 845.93,157.96 847.42,157.95 848.46,150.00 848.76,112.00 849.41,62.00 849.51,41.00 850.26,34.00 850.66,34.00 851.41,41.00 851.51,62.00 852.16,112.00 852.46,150.00 853.06,158.86" fill="none" stroke="#fff" stroke-width="2.15" stroke-linejoin="round" stroke-linecap="round"/>
<path d="M146.30,46 L146.60,60 L147.05,112 L147.90,150 L148.20,162 L144.40,162 L144.70,150 L145.55,112 L146.00,60 Z M153.46,46 L153.76,60 L154.21,112 L155.06,150 L155.36,162 L151.56,162 L151.86,150 L152.71,112 L153.16,60 Z M160.62,46 L160.92,60 L161.37,112 L162.22,150 L162.52,162 L158.72,162 L159.02,150 L159.87,112 L160.32,60 Z M167.78,46 L168.08,60 L168.53,112 L169.38,150 L169.68,162 L165.88,162 L166.18,150 L167.03,112 L167.48,60 Z M174.94,46 L175.24,60 L175.69,112 L176.54,150 L176.84,162 L173.04,162 L173.34,150 L174.19,112 L174.64,60 Z M182.10,46 L182.40,60 L182.85,112 L183.70,150 L184.00,162 L180.20,162 L180.50,150 L181.35,112 L181.80,60 Z M189.26,46 L189.56,60 L190.01,112 L190.86,150 L191.16,162 L187.36,162 L187.66,150 L188.51,112 L188.96,60 Z M196.42,46 L196.72,60 L197.17,112 L198.02,150 L198.32,162 L194.52,162 L194.82,150 L195.67,112 L196.12,60 Z M203.58,46 L203.88,60 L204.33,112 L205.18,150 L205.48,162 L201.68,162 L201.98,150 L202.83,112 L203.28,60 Z M210.74,46 L211.04,60 L211.49,112 L212.34,150 L212.64,162 L208.84,162 L209.14,150 L209.99,112 L210.44,60 Z M217.90,46 L218.20,60 L218.65,112 L219.50,150 L219.80,162 L216.00,162 L216.30,150 L217.15,112 L217.60,60 Z M225.06,46 L225.36,60 L225.81,112 L226.66,150 L226.96,162 L223.16,162 L223.46,150 L224.31,112 L224.76,60 Z M232.22,46 L232.52,60 L232.97,112 L233.82,150 L234.12,162 L230.32,162 L230.62,150 L231.47,112 L231.92,60 Z M239.38,46 L239.68,60 L240.13,112 L240.98,150 L241.28,162 L237.48,162 L237.78,150 L238.63,112 L239.08,60 Z M246.54,46 L246.84,60 L247.29,112 L248.14,150 L248.44,162 L244.64,162 L244.94,150 L245.79,112 L246.24,60 Z M253.70,46 L254.00,60 L254.45,112 L255.30,150 L255.60,162 L251.80,162 L252.10,150 L252.95,112 L253.40,60 Z M260.86,46 L261.16,60 L261.61,112 L262.46,150 L262.76,162 L258.96,162 L259.26,150 L260.11,112 L260.56,60 Z M268.02,46 L268.32,60 L268.77,112 L269.62,150 L269.92,162 L266.12,162 L266.42,150 L267.27,112 L267.72,60 Z M275.18,46 L275.48,60 L275.93,112 L276.78,150 L277.08,162 L273.28,162 L273.58,150 L274.43,112 L274.88,60 Z M282.34,46 L282.64,60 L283.09,112 L283.94,150 L284.24,162 L280.44,162 L280.74,150 L281.59,112 L282.04,60 Z M430.30,46 L430.60,60 L431.05,112 L431.90,150 L432.20,162 L428.40,162 L428.70,150 L429.55,112 L430.00,60 Z M437.46,46 L437.76,60 L438.21,112 L439.06,150 L439.36,162 L435.56,162 L435.86,150 L436.71,112 L437.16,60 Z M444.62,46 L444.92,60 L445.37,112 L446.22,150 L446.52,162 L442.72,162 L443.02,150 L443.87,112 L444.32,60 Z M451.78,46 L452.08,60 L452.53,112 L453.38,150 L453.68,162 L449.88,162 L450.18,150 L451.03,112 L451.48,60 Z M458.94,46 L459.24,60 L459.69,112 L460.54,150 L460.84,162 L457.04,162 L457.34,150 L458.19,112 L458.64,60 Z M466.10,46 L466.40,60 L466.85,112 L467.70,150 L468.00,162 L464.20,162 L464.50,150 L465.35,112 L465.80,60 Z M473.26,46 L473.56,60 L474.01,112 L474.86,150 L475.16,162 L471.36,162 L471.66,150 L472.51,112 L472.96,60 Z M480.42,46 L480.72,60 L481.17,112 L482.02,150 L482.32,162 L478.52,162 L478.82,150 L479.67,112 L480.12,60 Z M487.58,46 L487.88,60 L488.33,112 L489.18,150 L489.48,162 L485.68,162 L485.98,150 L486.83,112 L487.28,60 Z M494.74,46 L495.04,60 L495.49,112 L496.34,150 L496.64,162 L492.84,162 L493.14,150 L493.99,112 L494.44,60 Z M501.90,46 L502.20,60 L502.65,112 L503.50,150 L503.80,162 L500.00,162 L500.30,150 L501.15,112 L501.60,60 Z M509.06,46 L509.36,60 L509.81,112 L510.66,150 L510.96,162 L507.16,162 L507.46,150 L508.31,112 L508.76,60 Z M516.22,46 L516.52,60 L516.97,112 L517.82,150 L518.12,162 L514.32,162 L514.62,150 L515.47,112 L515.92,60 Z M523.38,46 L523.68,60 L524.13,112 L524.98,150 L525.28,162 L521.48,162 L521.78,150 L522.63,112 L523.08,60 Z M530.54,46 L530.84,60 L531.29,112 L532.14,150 L532.44,162 L528.64,162 L528.94,150 L529.79,112 L530.24,60 Z M537.70,46 L538.00,60 L538.45,112 L539.30,150 L539.60,162 L535.80,162 L536.10,150 L536.95,112 L537.40,60 Z M544.86,46 L545.16,60 L545.61,112 L546.46,150 L546.76,162 L542.96,162 L543.26,150 L544.11,112 L544.56,60 Z M552.02,46 L552.32,60 L552.77,112 L553.62,150 L553.92,162 L550.12,162 L550.42,150 L551.27,112 L551.72,60 Z M559.18,46 L559.48,60 L559.93,112 L560.78,150 L561.08,162 L557.28,162 L557.58,150 L558.43,112 L558.88,60 Z M566.34,46 L566.64,60 L567.09,112 L567.94,150 L568.24,162 L564.44,162 L564.74,150 L565.59,112 L566.04,60 Z M714.80,46 L715.10,60 L715.55,112 L716.40,150 L716.70,162 L712.90,162 L713.20,150 L714.05,112 L714.50,60 Z M721.94,46 L722.24,60 L722.69,112 L723.54,150 L723.84,162 L720.04,162 L720.34,150 L721.19,112 L721.64,60 Z M729.08,46 L729.38,60 L729.83,112 L730.68,150 L730.98,162 L727.18,162 L727.48,150 L728.33,112 L728.78,60 Z M736.22,46 L736.52,60 L736.97,112 L737.82,150 L738.12,162 L734.32,162 L734.62,150 L735.47,112 L735.92,60 Z M743.36,46 L743.66,60 L744.11,112 L744.96,150 L745.26,162 L741.46,162 L741.76,150 L742.61,112 L743.06,60 Z M750.50,46 L750.80,60 L751.25,112 L752.10,150 L752.40,162 L748.60,162 L748.90,150 L749.75,112 L750.20,60 Z M757.64,46 L757.94,60 L758.39,112 L759.24,150 L759.54,162 L755.74,162 L756.04,150 L756.89,112 L757.34,60 Z M764.78,46 L765.08,60 L765.53,112 L766.38,150 L766.68,162 L762.88,162 L763.18,150 L764.03,112 L764.48,60 Z M771.92,46 L772.22,60 L772.67,112 L773.52,150 L773.82,162 L770.02,162 L770.32,150 L771.17,112 L771.62,60 Z M779.06,46 L779.36,60 L779.81,112 L780.66,150 L780.96,162 L777.16,162 L777.46,150 L778.31,112 L778.76,60 Z M786.20,46 L786.50,60 L786.95,112 L787.80,150 L788.10,162 L784.30,162 L784.60,150 L785.45,112 L785.90,60 Z M793.34,46 L793.64,60 L794.09,112 L794.94,150 L795.24,162 L791.44,162 L791.74,150 L792.59,112 L793.04,60 Z M800.48,46 L800.78,60 L801.23,112 L802.08,150 L802.38,162 L798.58,162 L798.88,150 L799.73,112 L800.18,60 Z M807.62,46 L807.92,60 L808.37,112 L809.22,150 L809.52,162 L805.72,162 L806.02,150 L806.87,112 L807.32,60 Z M814.76,46 L815.06,60 L815.51,112 L816.36,150 L816.66,162 L812.86,162 L813.16,150 L814.01,112 L814.46,60 Z M821.90,46 L822.20,60 L822.65,112 L823.50,150 L823.80,162 L820.00,162 L820.30,150 L821.15,112 L821.60,60 Z M829.04,46 L829.34,60 L829.79,112 L830.64,150 L830.94,162 L827.14,162 L827.44,150 L828.29,112 L828.74,60 Z M836.18,46 L836.48,60 L836.93,112 L837.78,150 L838.08,162 L834.28,162 L834.58,150 L835.43,112 L835.88,60 Z M843.32,46 L843.62,60 L844.07,112 L844.92,150 L845.22,162 L841.42,162 L841.72,150 L842.57,112 L843.02,60 Z M850.46,46 L850.76,60 L851.21,112 L852.06,150 L852.36,162 L848.56,162 L848.86,150 L849.71,112 L850.16,60 Z" fill="#bd3f1d"/>
<polyline points="2.00,178.00 3.00,174.00 4.50,177.00 6.00,189.00 7.50,183.00 9.00,191.00 10.50,182.00 12.00,178.00 13.50,180.00 14.60,182.00 15.00,218.00 16.20,218.00 16.60,150.00 17.20,122.00 18.80,121.00 19.70,127.00 21.00,135.00 22.30,146.00 23.40,152.00 23.20,165.00 23.00,179.00 24.00,175.00 25.00,173.00 26.00,172.31 26.80,170.76 27.60,173.38 28.40,169.31 29.20,171.70 30.00,170.17 30.80,167.61 31.60,169.74 32.40,166.18 33.20,167.98 34.00,165.07 34.80,164.55 35.60,165.97 36.40,167.81 37.20,162.80 38.00,162.77 38.80,164.62 39.60,165.95 40.40,163.00 41.20,161.23 42.00,164.18 42.80,157.76 43.60,162.17 44.40,158.25 45.20,156.94 46.00,156.38 46.80,157.16 47.60,159.91 48.40,155.57 49.20,157.66 50.00,157.53 50.80,155.34 51.60,155.90 52.40,152.36 53.20,151.80 54.00,152.18 54.80,154.59 55.60,152.48 56.40,151.25 57.20,152.35 58.00,150.82 58.80,149.16 59.60,151.51 60.40,150.21 61.20,146.68 62.00,149.13 62.80,149.89 63.60,153.13 64.40,153.29 65.20,150.06 66.00,153.64 66.80,147.59 67.60,148.74 68.40,150.13 69.20,145.88 70.00,148.10 70.80,145.44 71.60,149.48 72.40,150.21 73.20,149.15 74.00,151.16 74.80,147.81 75.60,149.41 76.40,147.72 77.20,146.56 78.00,144.73 78.80,146.64 79.60,146.82 80.40,143.44 81.20,144.15 82.00,139.94 82.80,143.45 83.60,142.65 84.40,144.36 85.20,142.90 86.00,139.16 86.80,139.39 87.60,140.75 88.40,136.34 89.20,138.66 90.00,136.44 90.80,136.06 91.60,135.63 92.40,139.96 93.20,135.94 94.00,136.60 94.80,137.42 95.60,140.34 96.40,135.13 97.20,136.88 98.00,136.97 98.80,138.51 99.60,137.58 100.40,137.32 101.20,133.16 102.00,133.47 102.80,132.59 103.60,135.32 104.40,135.24 105.20,129.70 106.00,129.33 106.80,129.14 107.60,128.61 108.40,129.71 109.20,129.95 110.00,127.53 110.80,125.53 111.60,127.70 113.00,127.00 113.80,122.50 114.60,128.00 115.20,131.00 115.70,150.00 116.50,157.00 117.50,153.00 118.50,156.00 119.50,153.00 120.50,155.00 121.50,152.00 122.50,156.00 123.40,154.00 123.80,218.00 127.60,218.00 128.00,160.00 128.70,143.00 129.60,150.00 130.50,153.00 131.50,157.00 132.50,152.00 133.50,156.00 134.50,160.00 135.00,175.00 135.60,158.00 136.50,151.00 137.50,154.00 138.50,150.00 139.50,155.00 140.50,151.00 141.50,154.00 142.50,151.00 143.50,156.00 144.30,157.00 143.70,157.35" fill="none" stroke="#fff" stroke-width="2.5" stroke-linejoin="round" stroke-linecap="round"/>
<polyline points="284.94,158.08 285.40,158.00 286.50,166.00 287.20,141.00 288.00,140.00 288.80,158.00 289.50,159.43 290.20,159.68 290.90,159.43 291.60,155.83 292.30,154.92 293.00,154.90 293.70,154.66 294.40,154.66 295.10,157.12 295.80,158.72 296.50,158.31 297.20,156.09 297.90,157.08 298.60,157.91 299.30,153.56 300.00,156.96 300.70,158.49 301.40,157.76 302.10,157.61 302.80,156.01 303.50,154.25 304.20,157.94 304.90,155.24 305.60,158.08 306.30,159.14 307.00,155.73 307.70,155.79 308.40,159.10 309.10,157.80 309.80,178.00 310.50,154.55 311.20,150.00 311.90,154.36 312.60,154.54 313.30,159.09 314.00,158.54 314.70,154.61 315.40,158.73 316.10,159.69 316.80,145.00 317.50,157.82 318.20,166.00 318.90,156.05 319.60,157.27 320.30,154.80 321.00,154.12 321.70,159.88 322.40,157.98 323.10,157.26 323.80,159.73 324.50,156.75 325.20,159.40 325.90,159.15 326.60,155.49 327.30,155.75 328.00,156.02 328.70,155.73 329.40,157.83 330.10,155.89 330.80,156.87 331.50,155.17 332.20,159.87 332.90,156.55 333.60,157.20 334.30,157.98 335.00,159.93 335.70,157.05 336.40,160.05 337.10,157.58 337.80,168.00 338.50,157.81 339.20,157.78 339.90,154.78 340.60,157.33 341.30,155.81 342.00,154.76 342.70,170.00 343.40,170.00 344.10,148.00 344.80,159.62 345.50,155.88 346.20,157.71 346.90,159.25 347.60,158.26 348.30,156.90 349.00,158.08 349.70,158.32 350.40,159.69 351.10,155.60 351.80,158.30 352.50,156.41 353.20,156.55 353.90,159.50 354.60,157.89 355.30,158.19 356.00,159.36 356.70,160.25 357.40,157.41 358.10,158.41 358.80,157.74 359.50,157.76 360.20,158.82 360.90,157.35 361.60,157.81 362.30,157.46 363.00,160.22 363.70,170.00 364.40,170.00 365.10,158.69 365.80,145.00 366.50,159.71 367.20,160.08 367.90,155.96 368.60,157.74 369.30,160.02 370.00,159.37 370.70,155.13 371.40,155.02 372.10,156.92 372.80,140.00 373.50,154.65 374.20,158.00 374.90,155.61 375.60,154.59 376.30,158.14 377.00,170.00 377.70,158.78 378.40,159.44 379.10,154.96 379.80,158.30 380.50,157.94 381.20,154.80 381.90,159.20 382.60,159.68 383.30,155.15 384.00,159.52 384.70,156.15 385.40,156.65 386.10,159.63 386.80,158.65 387.50,154.59 388.20,172.00 388.90,142.00 389.60,156.11 390.30,156.58 391.00,155.48 391.70,154.59 392.40,155.29 393.10,157.68 393.80,153.43 394.50,156.60 395.20,155.88 395.90,153.31 396.60,155.16 397.30,156.88 398.00,156.17 398.70,153.45 399.40,158.94 400.10,157.73 400.80,158.86 401.50,153.68 402.20,148.00 402.90,154.70 403.60,153.37 404.30,157.83 405.00,154.81 405.70,153.99 406.40,155.77 407.10,158.73 407.80,158.20 408.50,154.87 409.20,154.24 409.90,144.00 410.60,158.91 411.30,156.84 412.00,172.00 412.70,157.67 413.40,154.03 414.10,175.00 414.80,153.89 415.50,157.70 416.20,156.15 416.90,154.06 417.60,159.28 418.30,157.48 419.00,158.51 419.70,154.23 420.40,158.89 421.10,154.18 421.80,158.98 422.50,156.56 423.20,150.00 423.90,155.92 424.60,157.23 425.30,159.50 426.00,155.57 426.70,154.76 427.50,156.00 427.70,160.13" fill="none" stroke="#fff" stroke-width="2.5" stroke-linejoin="round" stroke-linecap="round"/>
<polyline points="568.94,161.76 569.50,175.00 570.50,147.00 571.50,155.00 572.50,157.35 573.20,158.41 573.90,155.55 574.60,155.25 575.30,159.28 576.00,154.34 576.70,157.87 577.40,157.46 578.10,153.94 578.80,158.77 579.50,159.18 580.20,157.68 580.90,158.39 581.60,158.94 582.30,154.98 583.00,157.36 583.70,157.33 584.40,159.39 585.10,159.28 585.80,159.49 586.50,158.12 587.20,160.05 587.90,158.86 588.60,159.00 589.30,156.30 590.00,155.19 590.70,156.08 591.40,157.72 592.10,156.47 592.80,161.13 593.50,159.75 594.20,160.45 594.90,160.72 595.60,161.32 596.30,160.46 597.00,172.00 597.70,160.00 598.40,158.38 599.10,163.43 599.80,163.41 600.50,162.02 601.20,162.21 601.90,162.96 602.60,159.40 603.30,163.42 604.00,160.51 604.70,159.45 605.40,160.59 606.10,163.38 606.80,160.23 607.50,163.44 608.20,164.85 608.90,161.96 609.60,161.30 610.30,161.87 611.00,163.10 611.70,163.60 612.40,162.70 613.10,162.86 613.80,159.46 614.50,159.88 615.20,160.52 615.90,163.46 616.60,160.83 617.30,162.41 618.00,159.07 618.70,159.36 619.40,160.61 620.10,163.04 620.80,163.19 621.50,163.13 622.20,160.86 622.90,162.24 623.60,161.97 624.30,162.01 625.00,159.96 625.70,150.00 626.40,164.68 627.10,148.00 627.80,160.59 628.50,165.29 629.20,174.00 629.90,165.00 630.60,165.15 631.30,159.67 632.00,162.35 632.70,164.55 633.40,165.48 634.10,162.40 634.80,161.35 635.50,161.03 636.20,165.48 636.90,161.11 637.60,163.37 638.30,160.77 639.00,163.09 639.70,165.70 640.40,160.78 641.10,164.87 641.80,162.96 642.50,165.20 643.20,164.06 643.90,161.19 644.60,165.16 645.30,162.65 646.00,159.85 646.70,159.69 647.40,162.58 648.10,162.30 648.80,161.37 649.50,160.37 650.20,161.55 650.90,161.35 651.60,164.46 652.30,159.40 653.00,163.85 653.70,164.35 654.40,160.00 655.10,150.00 655.80,156.00 656.50,164.73 657.20,163.42 657.90,174.00 658.60,172.00 659.30,172.00 660.00,164.41 660.70,160.67 661.40,161.09 662.10,161.15 662.80,164.71 663.50,162.19 664.20,160.74 664.90,161.08 665.60,160.09 666.30,158.66 667.00,158.91 667.70,163.24 668.40,159.87 669.10,163.70 669.80,159.52 670.50,159.54 671.20,160.95 671.90,158.95 672.60,159.98 673.30,163.41 674.00,162.91 674.70,162.40 675.40,161.25 676.10,162.87 676.80,162.96 677.50,160.55 678.20,161.50 678.90,157.41 679.60,161.43 680.30,159.68 681.00,161.42 681.70,160.70 682.40,158.48 683.10,156.98 683.80,162.18 684.50,157.31 685.20,159.31 685.90,153.00 686.60,152.00 687.30,152.00 688.00,158.26 688.70,170.00 689.40,157.85 690.10,160.42 690.80,161.78 691.50,157.41 692.20,159.72 692.90,157.52 693.60,158.98 694.30,157.94 695.00,156.50 695.70,156.40 696.40,156.61 697.10,160.73 697.80,158.20 698.50,156.47 699.20,160.52 699.90,160.99 700.60,157.81 701.30,156.07 702.00,156.52 702.70,146.00 703.40,156.16 704.10,211.00 704.80,211.00 705.50,158.05 706.20,165.00 706.90,156.80 707.60,172.00 708.30,172.00 709.00,158.07 709.70,158.31 710.40,160.31 712.00,158.00 712.20,160.94" fill="none" stroke="#fff" stroke-width="2.5" stroke-linejoin="round" stroke-linecap="round"/>
<polyline points="853.06,158.86 853.50,158.00 855.00,157.00 856.50,159.00 858.00,156.00 859.30,158.00 859.80,104.00 860.60,104.00 861.20,160.00 862.50,152.00 864.00,156.00 865.00,153.10 865.80,156.34 866.60,158.18 867.40,151.22 868.20,148.91 869.00,151.18 869.80,151.40 870.60,154.16 871.40,150.34 872.20,156.49 873.00,156.60 873.80,155.08 874.60,152.97 875.40,160.41 876.20,154.53 877.00,159.39 877.80,154.15 878.60,154.24 879.40,159.37 880.20,155.27 881.00,161.49 881.80,157.47 882.60,154.81 883.40,155.32 885.00,150.00 886.00,128.00 887.00,122.00 888.00,126.00 889.00,124.00 890.00,126.07 890.80,128.39 891.60,130.96 892.40,125.72 893.20,128.03 894.00,127.27 894.80,133.28 895.60,127.90 896.40,127.89 897.20,128.59 898.00,131.63 898.80,135.91 899.60,122.75 900.40,137.90 901.20,138.07 902.00,134.37 902.80,133.98 903.60,140.02 904.40,139.29 905.20,134.71 906.00,139.58 906.80,137.85 907.60,138.13 908.40,138.15 909.20,137.30 910.00,136.42 910.80,138.73 911.60,139.57 912.40,144.24 913.20,138.57 914.00,144.94 914.80,132.49 915.60,144.62 916.40,145.02 917.20,142.61 918.00,140.25 918.80,143.71 919.60,143.38 920.40,147.72 921.20,142.89 922.00,144.52 922.80,148.76 923.60,142.92 924.40,146.06 925.20,149.39 926.00,149.63 926.80,140.15 927.60,145.71 928.40,152.45 929.20,148.25 930.00,152.35 930.80,154.01 931.60,150.56 932.40,150.56 933.20,155.90 934.00,153.84 934.80,151.69 935.60,155.36 936.40,152.88 937.20,152.98 938.00,151.43 938.80,157.24 939.60,158.80 940.40,157.20 941.20,159.91 942.00,148.26 942.80,157.50 943.60,161.45 944.40,161.91 945.20,158.30 946.00,157.81 946.80,159.58 947.60,160.51 948.40,164.12 949.20,159.24 950.00,164.18 950.80,164.04 951.60,164.96 952.40,164.92 953.20,164.05 954.00,162.36 954.80,162.62 955.60,163.25 956.40,166.59 957.20,161.85 958.00,154.19 958.80,163.70 959.60,162.71 960.40,162.88 961.20,167.10 962.00,165.95 962.80,171.14 963.60,170.92 964.40,172.15 965.20,167.43 966.00,166.61 966.80,167.17 967.60,170.55 968.40,172.55 969.20,171.14 970.00,170.09 970.80,171.72 971.60,161.94 972.40,161.57 973.20,174.46 974.00,170.87 974.80,176.37 975.60,172.76 976.40,175.04 977.20,173.97 978.00,176.91 978.80,173.35 979.60,174.02 980.40,174.33 981.20,173.98 982.00,179.57 982.80,177.68 983.60,167.86 984.40,167.73 985.20,176.15 986.00,180.62 986.80,179.82 987.60,182.57 988.40,176.50 989.20,179.50 990.00,182.30 990.80,182.93 991.60,183.94 992.40,178.13 993.20,180.43 994.00,179.66 994.80,180.64 996.00,185.00 997.00,187.00 997.40,216.00" fill="none" stroke="#fff" stroke-width="2.5" stroke-linejoin="round" stroke-linecap="round"/>
</g>
<polyline points="2.00,175.71 3.30,166.72 4.60,161.05 5.90,152.41 7.20,146.95 8.50,145.59 9.80,141.91 11.10,138.22 12.40,135.34 13.70,130.08 15.00,128.64 16.30,127.38 17.60,130.24 18.90,128.20 20.20,124.81 21.50,123.93 22.80,123.43 24.10,123.58 25.40,122.79 26.70,123.66 28.00,123.43 29.30,125.34 30.60,127.12 31.90,126.05 33.20,127.12 34.50,127.68 35.80,128.89 37.10,129.40 38.40,129.66 39.70,130.76 41.00,131.01 42.30,129.48 43.60,129.08 44.90,126.52 46.20,126.80 47.50,127.29 48.80,125.56 50.10,124.79 51.40,125.09 52.70,125.65 54.00,123.72 55.30,124.42 56.60,123.24 57.90,121.05 59.20,120.77 60.50,120.71 61.80,119.70 63.10,117.15 64.40,119.24 65.70,119.34 67.00,119.56 68.30,120.62 69.60,119.13 70.90,118.81 72.20,117.43 73.50,118.57 74.80,118.37 76.10,117.81 77.40,117.37 78.70,117.73 80.00,117.21 81.30,117.06 82.60,115.62 83.90,116.20 85.20,115.21 86.50,114.76 87.80,113.76 89.10,113.61 90.40,113.64 91.70,113.94 93.00,112.41 94.30,112.34 95.60,112.16 96.90,111.45 98.20,109.21 99.50,108.22 100.80,108.88 102.10,108.36 103.40,106.88 104.70,105.50 106.00,106.47 107.30,105.45 108.60,105.99 109.90,105.30 111.20,105.35 112.50,104.19 113.80,105.13 115.10,104.28 116.40,104.92 117.70,106.22 119.00,107.49 120.30,110.02 121.60,111.18 122.90,112.75 124.20,115.43 125.50,116.83 126.80,120.53 128.10,126.12 129.40,126.84 130.70,126.76 132.00,123.31 133.30,121.93 134.60,121.15 135.90,118.61 137.20,118.54 138.50,117.59 139.80,120.15 141.10,121.88 142.40,119.39 143.70,117.51 145.00,113.71 146.30,106.79 147.60,99.89 148.90,96.44 150.20,93.42 151.50,90.16 152.80,87.28 154.10,86.54 155.40,84.71 156.70,82.47 158.00,81.40 159.30,79.90 160.60,77.90 161.90,76.27 163.20,75.63 164.50,74.24 165.80,73.84 167.10,73.80 168.40,71.99 169.70,71.71 171.00,71.44 172.30,70.37 173.60,70.32 174.90,68.45 176.20,68.45 177.50,67.54 178.80,66.17 180.10,65.70 181.40,66.81 182.70,66.70 184.00,67.34 185.30,66.09 186.60,67.75 187.90,68.53 189.20,68.71 190.50,68.17 191.80,66.20 193.10,66.49 194.40,64.89 195.70,64.72 197.00,63.79 198.30,61.95 199.60,62.67 200.90,62.66 202.20,61.95 203.50,63.03 204.80,64.28 206.10,62.83 207.40,63.15 208.70,61.44 210.00,61.47 211.30,60.68 212.60,61.44 213.90,62.18 215.20,61.18 216.50,61.33 217.80,61.31 219.10,60.56 220.40,59.73 221.70,59.68 223.00,59.39 224.30,60.29 225.60,59.67 226.90,59.78 228.20,58.49 229.50,59.35 230.80,58.28 232.10,58.83 233.40,58.72 234.70,58.05 236.00,58.56 237.30,58.02 238.60,58.00 239.90,58.40 241.20,57.05 242.50,58.08 243.80,57.24 245.10,56.11 246.40,55.85 247.70,54.65 249.00,55.74 250.30,55.38 251.60,55.49 252.90,56.34 254.20,55.67 255.50,55.09 256.80,55.89 258.10,54.87 259.40,56.06 260.70,55.21 262.00,55.74 263.30,56.22 264.60,55.58 265.90,55.65 267.20,55.04 268.50,54.49 269.80,54.45 271.10,54.53 272.40,55.19 273.70,54.98 275.00,55.17 276.30,55.81 277.60,54.73 278.90,54.84 280.20,55.40 281.50,54.37 282.80,54.27 284.10,54.78 285.40,54.41 286.70,55.03 288.00,56.39 289.30,58.53 290.60,60.27 291.90,61.42 293.20,63.79 294.50,65.30 295.80,66.41 297.10,69.17 298.40,70.56 299.70,73.23 301.00,76.03 302.30,79.76 303.60,82.76 304.90,85.22 306.20,87.01 307.50,89.15 308.80,90.85 310.10,93.82 311.40,94.99 312.70,95.89 314.00,97.08 315.30,97.52 316.60,98.96 317.90,99.30 319.20,99.09 320.50,99.86 321.80,98.35 323.10,99.60 324.40,100.06 325.70,99.99 327.00,99.50 328.30,100.52 329.60,99.80 330.90,101.04 332.20,102.86 333.50,102.96 334.80,104.22 336.10,105.91 337.40,106.84 338.70,108.13 340.00,109.47 341.30,106.89 342.60,106.51 343.90,107.15 345.20,104.62 346.50,103.50 347.80,101.89 349.10,100.92 350.40,99.50 351.70,101.54 353.00,102.67 354.30,104.33 355.60,106.22 356.90,106.57 358.20,107.15 359.50,108.01 360.80,107.64 362.10,105.79 363.40,104.85 364.70,104.17 366.00,103.29 367.30,103.12 368.60,103.35 369.90,103.12 371.20,101.90 372.50,99.90 373.80,98.87 375.10,96.93 376.40,95.25 377.70,94.91 379.00,96.70 380.30,96.70 381.60,98.21 382.90,97.59 384.20,99.00 385.50,99.10 386.80,98.57 388.10,97.81 389.40,96.73 390.70,96.16 392.00,97.77 393.30,96.44 394.60,95.01 395.90,96.15 397.20,96.52 398.50,96.59 399.80,96.29 401.10,97.82 402.40,98.35 403.70,99.25 405.00,99.30 406.30,99.02 407.60,98.01 408.90,99.74 410.20,100.25 411.50,97.51 412.80,95.21 414.10,94.26 415.40,92.07 416.70,92.34 418.00,89.72 419.30,88.74 420.60,90.81 421.90,93.09 423.20,92.97 424.50,93.96 425.80,94.93 427.10,95.99 428.40,94.29 429.70,88.47 431.00,82.63 432.30,78.61 433.60,74.40 434.90,72.95 436.20,70.50 437.50,69.23 438.80,67.84 440.10,66.91 441.40,64.27 442.70,63.91 444.00,62.62 445.30,61.37 446.60,58.97 447.90,58.17 449.20,57.10 450.50,56.24 451.80,56.71 453.10,55.93 454.40,55.23 455.70,55.09 457.00,54.36 458.30,53.50 459.60,52.93 460.90,52.64 462.20,53.33 463.50,52.14 464.80,51.96 466.10,51.78 467.40,51.04 468.70,51.27 470.00,51.17 471.30,51.69 472.60,51.04 473.90,50.84 475.20,51.66 476.50,50.71 477.80,50.97 479.10,50.37 480.40,49.43 481.70,49.93 483.00,49.90 484.30,50.25 485.60,49.45 486.90,49.82 488.20,49.29 489.50,48.52 490.80,49.20 492.10,48.14 493.40,49.79 494.70,49.38 496.00,49.19 497.30,49.42 498.60,50.18 499.90,50.42 501.20,48.79 502.50,49.34 503.80,49.16 505.10,49.45 506.40,48.58 507.70,49.10 509.00,48.93 510.30,49.67 511.60,48.68 512.90,49.58 514.20,48.46 515.50,48.22 516.80,48.82 518.10,48.22 519.40,47.31 520.70,47.78 522.00,46.60 523.30,47.32 524.60,46.84 525.90,46.77 527.20,46.68 528.50,46.42 529.80,46.63 531.10,46.55 532.40,47.19 533.70,45.87 535.00,46.97 536.30,45.60 537.60,45.94 538.90,46.09 540.20,47.11 541.50,46.58 542.80,46.39 544.10,47.11 545.40,46.09 546.70,46.38 548.00,46.45 549.30,46.74 550.60,46.69 551.90,46.58 553.20,46.23 554.50,46.29 555.80,46.13 557.10,47.25 558.40,47.02 559.70,47.06 561.00,46.12 562.30,46.45 563.60,46.95 564.90,46.73 566.20,46.13 567.50,46.71 568.80,47.96 570.10,47.95 571.40,48.91 572.70,50.27 574.00,52.08 575.30,53.65 576.60,54.48 577.90,56.34 579.20,58.62 580.50,60.91 581.80,63.23 583.10,64.64 584.40,66.84 585.70,68.47 587.00,71.38 588.30,72.74 589.60,73.54 590.90,76.56 592.20,77.00 593.50,79.16 594.80,81.13 596.10,81.49 597.40,81.92 598.70,81.69 600.00,81.54 601.30,82.47 602.60,81.99 603.90,83.18 605.20,84.43 606.50,84.55 607.80,85.75 609.10,88.09 610.40,89.45 611.70,89.68 613.00,90.60 614.30,91.38 615.60,91.56 616.90,92.47 618.20,92.51 619.50,93.99 620.80,95.41 622.10,96.00 623.40,96.07 624.70,95.55 626.00,93.68 627.30,91.83 628.60,91.01 629.90,89.69 631.20,88.45 632.50,87.30 633.80,87.01 635.10,86.30 636.40,86.68 637.70,86.83 639.00,86.72 640.30,87.19 641.60,86.40 642.90,86.99 644.20,87.70 645.50,87.76 646.80,87.69 648.10,87.13 649.40,87.39 650.70,88.02 652.00,89.35 653.30,90.26 654.60,92.40 655.90,94.51 657.20,92.08 658.50,91.23 659.80,89.86 661.10,87.73 662.40,86.58 663.70,86.19 665.00,83.81 666.30,85.61 667.60,86.05 668.90,87.76 670.20,88.78 671.50,88.93 672.80,88.96 674.10,89.93 675.40,89.93 676.70,89.76 678.00,89.02 679.30,88.78 680.60,88.63 681.90,87.88 683.20,87.50 684.50,87.96 685.80,86.29 687.10,86.45 688.40,85.30 689.70,85.07 691.00,83.77 692.30,84.84 693.60,83.86 694.90,83.57 696.20,84.06 697.50,84.27 698.80,83.47 700.10,83.92 701.40,84.44 702.70,85.70 704.00,87.78 705.30,88.95 706.60,89.14 707.90,88.94 709.20,88.56 710.50,86.84 711.80,84.56 713.10,81.69 714.40,75.10 715.70,70.14 717.00,65.44 718.30,64.33 719.60,62.33 720.90,60.35 722.20,58.44 723.50,57.21 724.80,55.33 726.10,55.16 727.40,53.10 728.70,52.37 730.00,51.62 731.30,50.63 732.60,49.64 733.90,49.02 735.20,49.97 736.50,49.99 737.80,51.35 739.10,50.13 740.40,50.43 741.70,49.23 743.00,49.06 744.30,48.62 745.60,48.81 746.90,48.38 748.20,48.03 749.50,48.98 750.80,48.19 752.10,47.92 753.40,47.77 754.70,47.80 756.00,47.49 757.30,47.77 758.60,47.77 759.90,47.30 761.20,47.84 762.50,47.41 763.80,45.89 765.10,46.83 766.40,46.75 767.70,46.37 769.00,45.34 770.30,46.35 771.60,46.03 772.90,45.07 774.20,44.91 775.50,46.14 776.80,45.53 778.10,44.75 779.40,44.37 780.70,44.32 782.00,44.35 783.30,45.06 784.60,44.30 785.90,43.93 787.20,44.97 788.50,44.73 789.80,43.71 791.10,44.57 792.40,43.88 793.70,43.88 795.00,43.45 796.30,43.57 797.60,43.30 798.90,43.27 800.20,42.20 801.50,42.83 802.80,42.53 804.10,42.83 805.40,42.35 806.70,43.00 808.00,42.48 809.30,41.81 810.60,41.53 811.90,41.16 813.20,41.47 814.50,40.71 815.80,41.22 817.10,40.62 818.40,41.04 819.70,40.97 821.00,40.99 822.30,41.43 823.60,40.11 824.90,41.31 826.20,40.56 827.50,40.49 828.80,40.44 830.10,40.50 831.40,39.70 832.70,39.65 834.00,40.36 835.30,38.92 836.60,39.66 837.90,39.56 839.20,38.55 840.50,39.26 841.80,39.11 843.10,39.23 844.40,38.07 845.70,39.13 847.00,38.53 848.30,38.72 849.60,39.94 850.90,39.25 852.20,40.81 853.50,41.19 854.80,41.84 856.10,43.71 857.40,44.56 858.70,46.54 860.00,48.54 861.30,50.81 862.60,51.73 863.90,53.61 865.20,55.05 866.50,56.58 867.80,58.13 869.10,57.96 870.40,59.48 871.70,59.78 873.00,60.91 874.30,61.60 875.60,63.35 876.90,65.87 878.20,67.07 879.50,68.84 880.80,69.87 882.10,71.67 883.40,73.10 884.70,74.83 886.00,74.20 887.30,72.83 888.60,69.11 889.90,68.43 891.20,67.59 892.50,67.17 893.80,66.51 895.10,66.46 896.40,65.50 897.70,65.30 899.00,65.97 900.30,65.10 901.60,64.92 902.90,65.09 904.20,65.79 905.50,65.83 906.80,66.28 908.10,66.71 909.40,67.11 910.70,67.24 912.00,67.66 913.30,67.39 914.60,68.59 915.90,68.89 917.20,69.99 918.50,69.70 919.80,70.60 921.10,71.26 922.40,73.34 923.70,72.66 925.00,71.23 926.30,70.02 927.60,70.00 928.90,70.21 930.20,70.13 931.50,69.94 932.80,70.26 934.10,70.70 935.40,70.70 936.70,71.03 938.00,71.51 939.30,72.15 940.60,71.04 941.90,72.01 943.20,71.36 944.50,71.56 945.80,72.69 947.10,72.42 948.40,73.00 949.70,72.35 951.00,71.77 952.30,72.49 953.60,72.96 954.90,73.64 956.20,74.92 957.50,75.46 958.80,76.41 960.10,77.00 961.40,79.12 962.70,79.77 964.00,80.98 965.30,82.07 966.60,83.36 967.90,85.52 969.20,85.45 970.50,86.90 971.80,84.80 973.10,85.19 974.40,83.30 975.70,82.36 977.00,82.63 978.30,82.57 979.60,84.87 980.90,85.61 982.20,86.97 983.50,89.21 984.80,90.16 986.10,89.87 987.40,88.90 988.70,88.36 990.00,89.69 991.30,91.63 992.60,93.06 993.90,95.33 995.20,95.93 996.50,98.95 997.80,101.19 998.50,102.50" fill="none" stroke="#e01418" stroke-width="2.4" stroke-linejoin="round" stroke-linecap="round"/>
<path d="M426.5,12.8 h6.2 l-3.1,5.4 z" fill="#e7ae2e"/>
<path d="M844.4,18.8 h5.4 l-2.7,4 z" fill="#d8161c"/>
<text x="420" y="6.9" class="lab" lengthAdjust="spacingAndGlyphs" textLength="36.7">492w</text>
<text x="830.4" y="15.1" class="lab" lengthAdjust="spacingAndGlyphs" textLength="50.6">173bpm</text>
</g>
<g id="legend">
<circle cx="21.2" cy="236.5" r="7" fill="#fff" stroke="#e3d5cf" stroke-width="1.2"/><circle cx="21.2" cy="236.5" r="4.1" fill="#ee6337"/>
<text x="33.3" y="242.4" class="leg" lengthAdjust="spacingAndGlyphs" textLength="54">Power</text>
<circle cx="125.1" cy="236.8" r="4.6" fill="#fff" stroke="#c9c9c9" stroke-width="1.2"/>
<text x="136.8" y="242.4" class="leg" lengthAdjust="spacingAndGlyphs" textLength="71.5">Cadence</text>
<circle cx="247.0" cy="236.5" r="7" fill="#fff" stroke="#e3d5cf" stroke-width="1.2"/><circle cx="247.0" cy="236.5" r="4.1" fill="#ee6337"/>
<text x="258.7" y="242.4" class="leg" lengthAdjust="spacingAndGlyphs" textLength="94">Heart Rate</text>
</g>
<g id="power-distribution">
<rect x="1.5" y="253.7" width="472.5" height="163.6" rx="10" ry="10" fill="#2f2f2f"/>
<path d="M2.60,418.3 L2.60,399.39 A7.39,7.39 0 0 1 17.38,399.39 L17.38,372.39 A7.39,7.39 0 0 1 32.16,372.39 L32.16,325.39 A7.39,7.39 0 0 1 46.94,325.39 L46.94,317.89 A7.39,7.39 0 0 1 61.72,317.89 L61.72,378.39 A7.39,7.39 0 0 1 76.50,378.39 L76.50,393.39 A7.39,7.39 0 0 1 91.28,393.39 L91.28,396.39 A7.39,7.39 0 0 1 106.06,396.39 L106.06,400.89 A7.39,7.39 0 0 1 120.84,400.89 L120.84,407.39 A7.39,7.39 0 0 1 135.62,407.39 L135.62,408.89 A7.39,7.39 0 0 1 150.40,408.89 L150.40,409.39 A7.39,7.39 0 0 1 165.18,409.39 L165.18,410.39 A7.39,7.39 0 0 1 179.96,410.39 L179.96,408.89 A7.39,7.39 0 0 1 194.74,408.89 L194.74,409.39 A7.39,7.39 0 0 1 209.52,409.39 L209.52,409.39 A7.39,7.39 0 0 1 224.30,409.39 L224.30,408.39 A7.39,7.39 0 0 1 239.08,408.39 L239.08,407.89 A7.39,7.39 0 0 1 253.86,407.89 L253.86,407.89 A7.39,7.39 0 0 1 268.64,407.89 L268.64,407.39 A7.39,7.39 0 0 1 283.42,407.39 L283.42,404.39 A7.39,7.39 0 0 1 298.20,404.39 L298.20,397.89 A7.39,7.39 0 0 1 312.98,397.89 L312.98,377.39 A7.39,7.39 0 0 1 327.76,377.39 L327.76,393.39 A7.39,7.39 0 0 1 342.54,393.39 L342.54,409.39 A7.39,7.39 0 0 1 357.32,409.39 L357.32,410.89 A7.39,7.39 0 0 1 372.10,410.89 L372.10,410.89 A7.39,7.39 0 0 1 386.88,410.89 L386.88,418.3 Z" fill="#fff"/>
<line x1="106.6" y1="315.1" x2="106.6" y2="416.2" stroke="#000" stroke-width="2.7" stroke-dasharray="2.5 2.44"/>
<text x="112.3" y="336" class="mk" lengthAdjust="spacingAndGlyphs" textLength="28.2">211</text>
<text x="144.2" y="273" class="ttl" lengthAdjust="spacingAndGlyphs" textLength="187.2">power distribution</text>
<text x="1.4" y="427.4" class="ax" lengthAdjust="spacingAndGlyphs" textLength="19.2">100</text>
<text x="39.0" y="427.4" class="ax" lengthAdjust="spacingAndGlyphs" textLength="19.2">150</text>
<text x="86.0" y="427.4" class="ax" lengthAdjust="spacingAndGlyphs" textLength="19.2">200</text>
<text x="133.4" y="427.4" class="ax" lengthAdjust="spacingAndGlyphs" textLength="19.2">250</text>
<text x="180.9" y="427.4" class="ax" lengthAdjust="spacingAndGlyphs" textLength="19.2">300</text>
<text x="228.0" y="427.4" class="ax" lengthAdjust="spacingAndGlyphs" textLength="19.2">350</text>
<text x="275.4" y="427.4" class="ax" lengthAdjust="spacingAndGlyphs" textLength="19.2">400</text>
<text x="322.9" y="427.4" class="ax" lengthAdjust="spacingAndGlyphs" textLength="19.2">450</text>
<text x="370.0" y="427.4" class="ax" lengthAdjust="spacingAndGlyphs" textLength="19.2">500</text>
<text x="417.4" y="427.4" class="ax" lengthAdjust="spacingAndGlyphs" textLength="19.2">550</text>
<text x="453.6" y="427.4" class="ax" lengthAdjust="spacingAndGlyphs" textLength="19.2">600</text>
<text x="217" y="442.7" class="unit" lengthAdjust="spacingAndGlyphs" textLength="41.8">watts</text>
</g>
<g id="heart-rate-distribution">
<rect x="525.7" y="253.7" width="472.5" height="163.6" rx="11" ry="11" fill="#2f2f2f"/>
<rect x="646.2" y="275" width="106.1" height="142.3" fill="#2f88ff"/>
<rect x="752.0" y="275" width="70.3" height="142.3" fill="#57b85c"/>
<rect x="822.0" y="275" width="70.8" height="142.3" fill="#ffc848"/>
<rect x="892.5" y="275" width="70.8" height="142.3" fill="#ff6b3f"/>
<path d="M963,275 H988.2 a10,10 0 0 1 10,10 V407.3 a10,10 0 0 1 -10,10 H963 Z" fill="#ff3b12"/>
<text x="698.8" y="291.6" class="zn" text-anchor="middle">Z1</text>
<text x="787.0" y="291.6" class="zn" text-anchor="middle">Z2</text>
<text x="857.0" y="291.6" class="zn" text-anchor="middle">Z3</text>
<text x="927.0" y="291.6" class="zn" text-anchor="middle">Z4</text>
<text x="980.0" y="291.6" class="zn" text-anchor="middle">Z5</text>
<path d="M556.40,418.3 L556.40,410.38 A7.38,7.38 0 0 1 571.15,410.38 L571.15,410.88 A7.38,7.38 0 0 1 585.90,410.88 L585.90,410.88 A7.38,7.38 0 0 1 600.65,410.88 L600.65,410.88 A7.38,7.38 0 0 1 615.40,410.88 L615.40,410.88 A7.38,7.38 0 0 1 630.15,410.88 L630.15,410.88 A7.38,7.38 0 0 1 644.90,410.88 L644.90,409.38 A7.38,7.38 0 0 1 659.65,409.38 L659.65,409.38 A7.38,7.38 0 0 1 674.40,409.38 L674.40,409.38 A7.38,7.38 0 0 1 689.15,409.38 L689.15,395.88 A7.38,7.38 0 0 1 703.90,395.88 L703.90,393.38 A7.38,7.38 0 0 1 718.65,393.38 L718.65,390.88 A7.38,7.38 0 0 1 733.40,390.88 L733.40,392.07 A7.38,7.38 0 0 1 748.15,392.07 L748.15,398.38 A7.38,7.38 0 0 1 762.90,398.38 L762.90,380.38 A7.38,7.38 0 0 1 777.65,380.38 L777.65,368.38 A7.38,7.38 0 0 1 792.40,368.38 L792.40,368.38 A7.38,7.38 0 0 1 807.15,368.38 L807.15,365.38 A7.38,7.38 0 0 1 821.90,365.38 L821.90,363.38 A7.38,7.38 0 0 1 836.65,363.38 L836.65,395.38 A7.38,7.38 0 0 1 851.40,395.38 L851.40,370.38 A7.38,7.38 0 0 1 866.15,370.38 L866.15,360.38 A7.38,7.38 0 0 1 880.90,360.38 L880.90,376.38 A7.38,7.38 0 0 1 895.65,376.38 L895.65,372.07 A7.38,7.38 0 0 1 910.40,372.07 L910.40,347.07 A7.38,7.38 0 0 1 925.15,347.07 L925.15,318.38 A7.38,7.38 0 0 1 939.90,318.38 L939.90,363.88 A7.38,7.38 0 0 1 954.65,363.88 L954.65,403.38 A7.38,7.38 0 0 1 969.40,403.38 L969.40,418.3 Z" fill="#fff"/>
<line x1="848.4" y1="315.1" x2="848.4" y2="416.2" stroke="#000" stroke-width="2.7" stroke-dasharray="2.5 2.44"/>
<text x="855" y="336" class="mk" lengthAdjust="spacingAndGlyphs" textLength="31.4">144</text>
<text x="649.4" y="273" class="ttl" lengthAdjust="spacingAndGlyphs" textLength="225">heart rate distribution</text>
<text x="528.4" y="427.4" class="ax" lengthAdjust="spacingAndGlyphs" textLength="12.2">60</text>
<text x="567.7" y="427.4" class="ax" lengthAdjust="spacingAndGlyphs" textLength="12.2">72</text>
<text x="614.9" y="427.4" class="ax" lengthAdjust="spacingAndGlyphs" textLength="12.2">85</text>
<text x="661.9" y="427.4" class="ax" lengthAdjust="spacingAndGlyphs" textLength="12.2">97</text>
<text x="704.6" y="427.4" class="ax" lengthAdjust="spacingAndGlyphs" textLength="18.4">109</text>
<text x="752.6" y="427.4" class="ax" lengthAdjust="spacingAndGlyphs" textLength="18.4">122</text>
<text x="800.1" y="427.4" class="ax" lengthAdjust="spacingAndGlyphs" textLength="18.4">134</text>
<text x="847.1" y="427.4" class="ax" lengthAdjust="spacingAndGlyphs" textLength="18.4">146</text>
<text x="893.8" y="427.4" class="ax" lengthAdjust="spacingAndGlyphs" textLength="18.4">158</text>
<text x="940.8" y="427.4" class="ax" lengthAdjust="spacingAndGlyphs" textLength="18.4">171</text>
<text x="980.1" y="427.4" class="ax" lengthAdjust="spacingAndGlyphs" textLength="18.4">183</text>
<text x="746.6" y="442.5" class="unit" lengthAdjust="spacingAndGlyphs" textLength="30.4">bpm</text>
</g>
</svg>
</body>
</html>
